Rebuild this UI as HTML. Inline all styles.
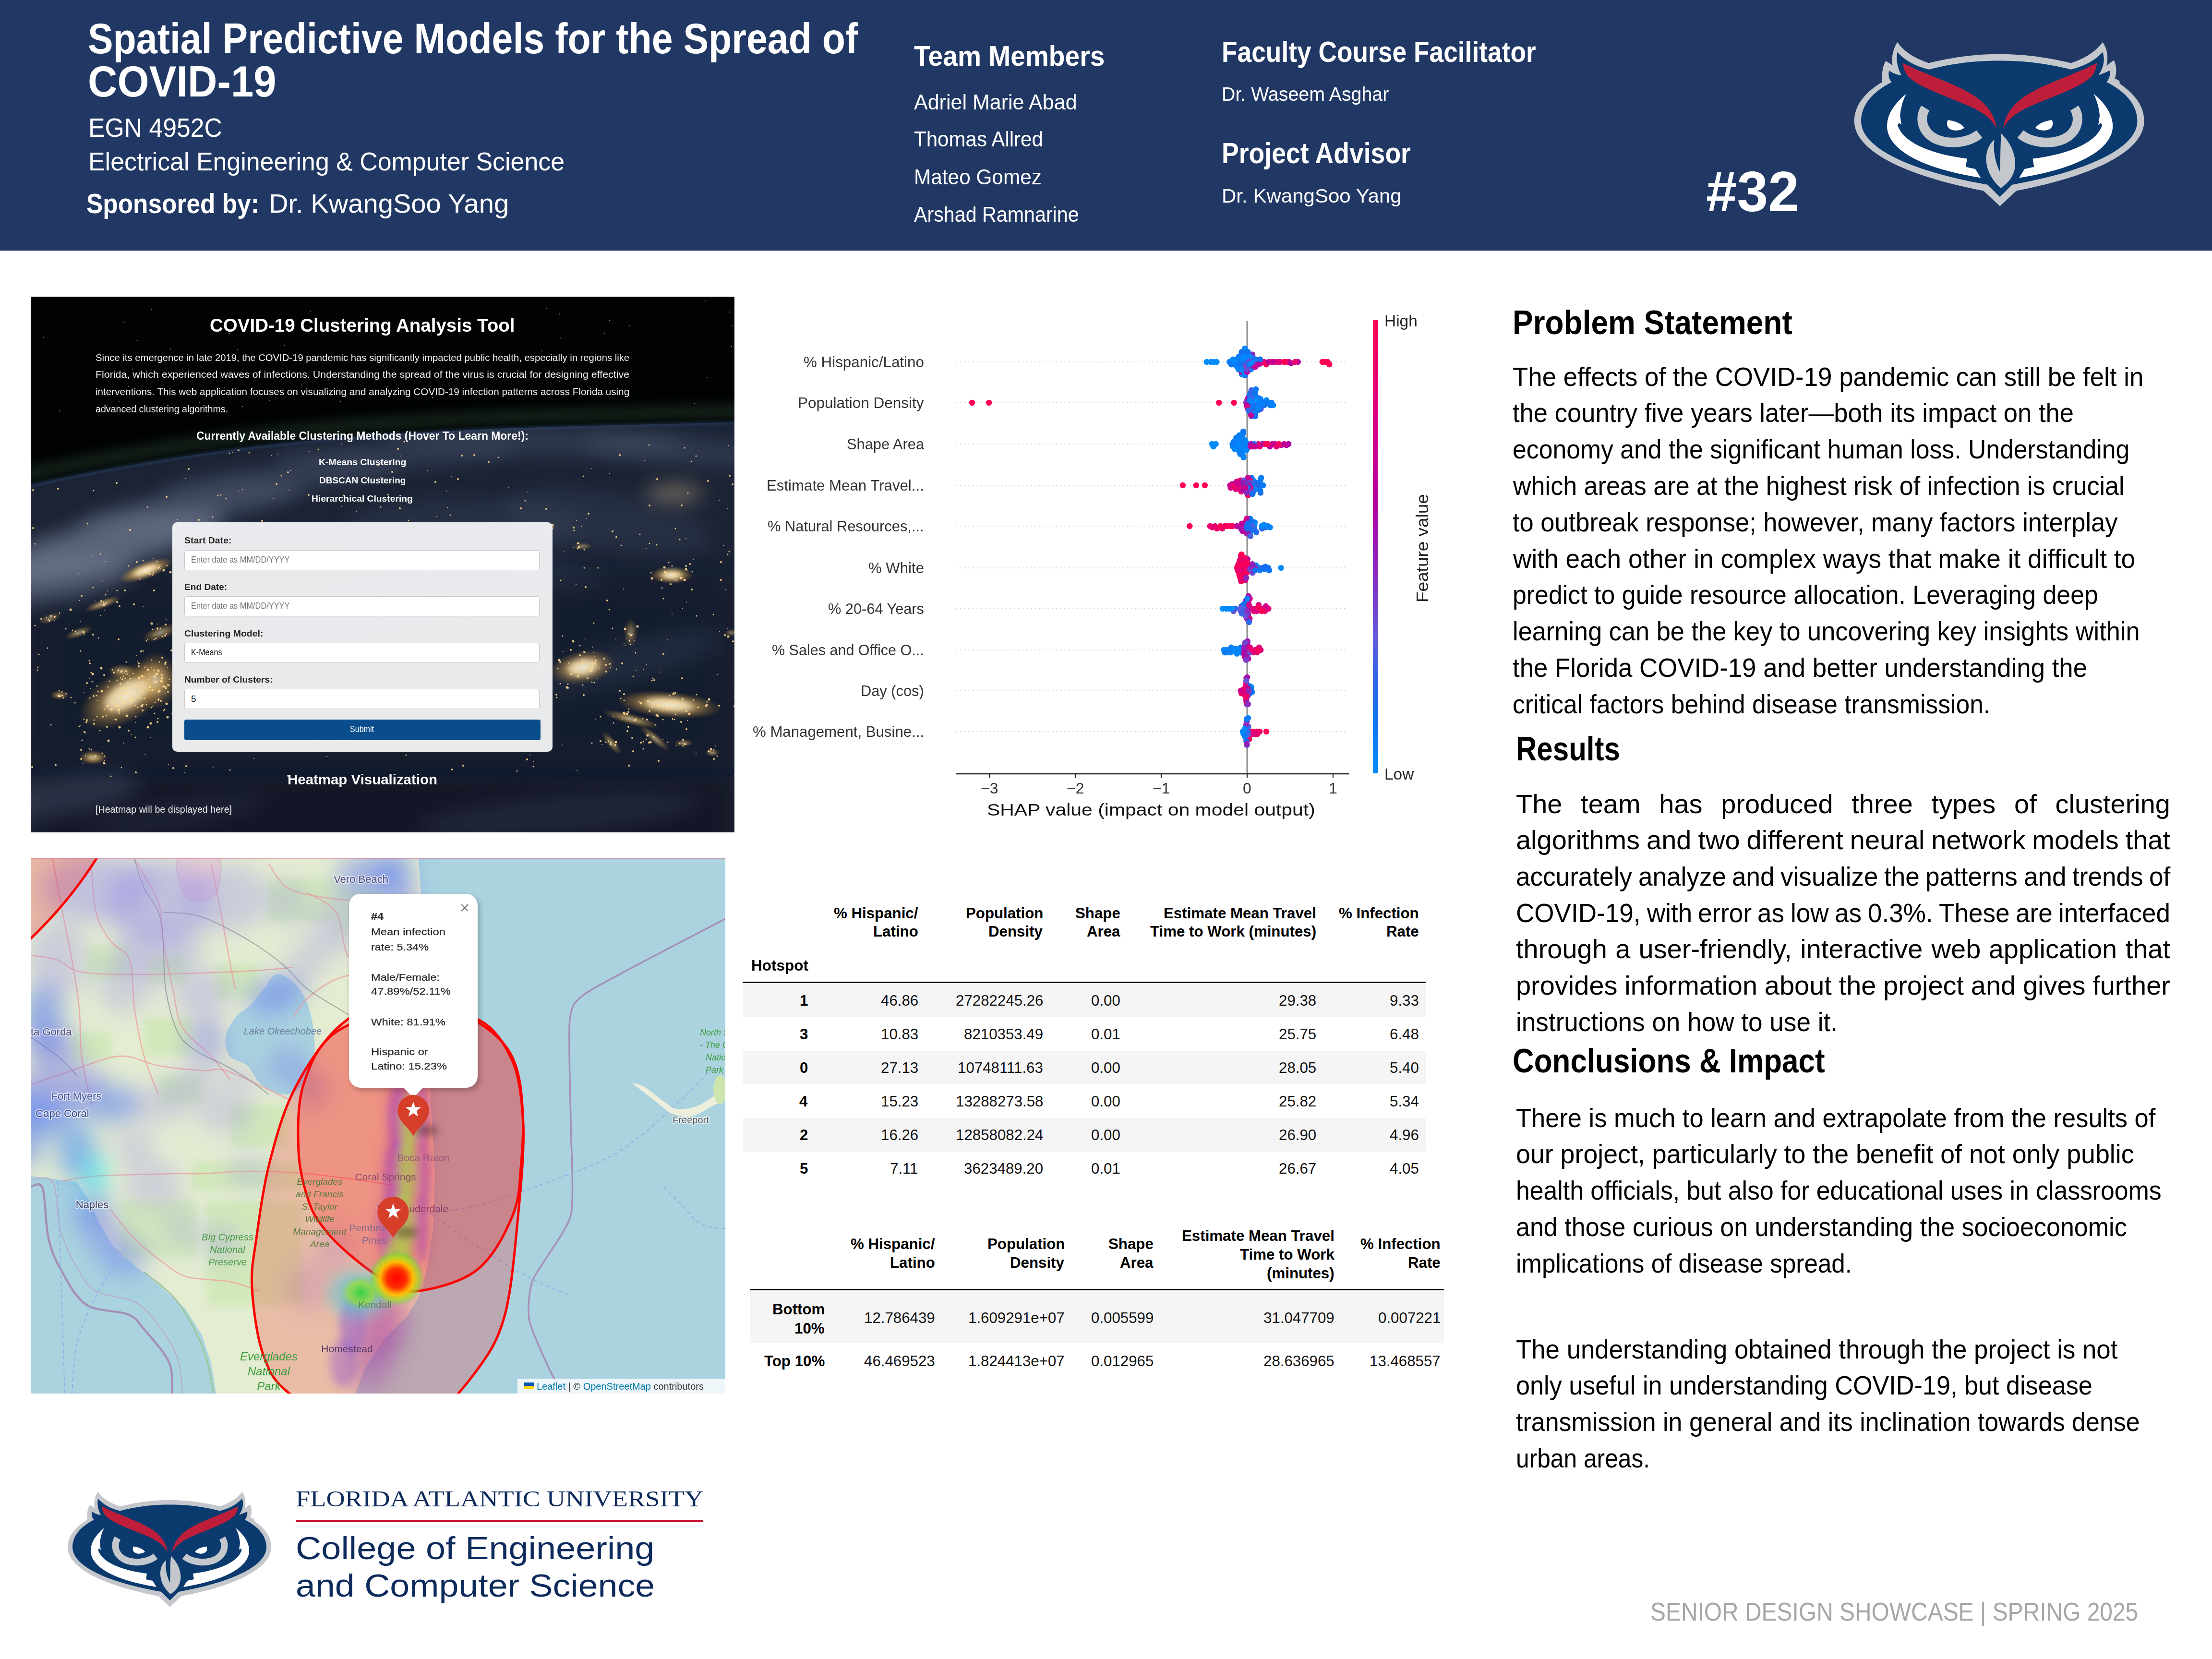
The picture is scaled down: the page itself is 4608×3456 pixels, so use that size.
<!DOCTYPE html>
<html><head><meta charset="utf-8"><title>Spatial Predictive Models for the Spread of COVID-19</title>
<style>
html,body{margin:0;padding:0;background:#fff;}
body{width:4608px;height:3456px;position:relative;overflow:hidden;font-family:"Liberation Sans",sans-serif;color:#000;}
.t{position:absolute;white-space:nowrap;line-height:1;transform-origin:0 0;}
</style></head><body>
<div style="position:absolute;left:0;top:0;width:4608px;height:522px;background:#213864"></div>
<div class="t" style="left:183.0px;top:36.9px;font-size:88.66px;font-weight:bold;color:#fff;transform:scaleX(0.8897);">Spatial Predictive Models for the Spread of</div>
<div class="t" style="left:183.0px;top:124.7px;font-size:90.12px;font-weight:bold;color:#fff;transform:scaleX(0.9447);">COVID-19</div>
<div class="t" style="left:184.0px;top:239.2px;font-size:55.23px;color:#fff;transform:scaleX(0.9362);">EGN 4952C</div>
<div class="t" style="left:184.0px;top:309.5px;font-size:53.78px;color:#fff;transform:scaleX(0.9650);">Electrical Engineering &amp; Computer Science</div>
<div class="t" style="left:180.0px;top:394.8px;font-size:58.14px;font-weight:bold;color:#fff;transform:scaleX(0.8845);">Sponsored by:</div>
<div class="t" style="left:560.0px;top:397.2px;font-size:55.23px;color:#fff;transform:scaleX(1.0163);">Dr. KwangSoo Yang</div>
<div class="t" style="left:1904.0px;top:86.6px;font-size:59.59px;font-weight:bold;color:#fff;transform:scaleX(0.9254);">Team Members</div>
<div class="t" style="left:1904.0px;top:189.9px;font-size:45.06px;color:#fff;transform:scaleX(0.9551);">Adriel Marie Abad</div>
<div class="t" style="left:1904.0px;top:266.9px;font-size:45.06px;color:#fff;transform:scaleX(0.9340);">Thomas Allred</div>
<div class="t" style="left:1904.0px;top:345.9px;font-size:45.06px;color:#fff;transform:scaleX(0.9399);">Mateo Gomez</div>
<div class="t" style="left:1904.0px;top:423.9px;font-size:45.06px;color:#fff;transform:scaleX(0.9149);">Arshad Ramnarine</div>
<div class="t" style="left:2545.0px;top:78.3px;font-size:61.05px;font-weight:bold;color:#fff;transform:scaleX(0.8733);">Faculty Course Facilitator</div>
<div class="t" style="left:2545.0px;top:175.5px;font-size:40.70px;color:#fff;transform:scaleX(0.9667);">Dr. Waseem Asghar</div>
<div class="t" style="left:2545.0px;top:289.3px;font-size:61.05px;font-weight:bold;color:#fff;transform:scaleX(0.8775);">Project Advisor</div>
<div class="t" style="left:2545.0px;top:387.5px;font-size:40.70px;color:#fff;transform:scaleX(1.0331);">Dr. KwangSoo Yang</div>
<div class="t" style="left:3554.0px;top:339.1px;font-size:119.19px;font-weight:bold;color:#fff;transform:scaleX(0.9749);">#32</div>
<svg style="position:absolute;left:3850.0px;top:70.0px" width="630.0" height="370.0" viewBox="0 0 2212 1299">
<path fill="#c4c7cc" d="M360 62 C400 120 470 175 590 215 C800 165 950 150 1105 150 C1260 150 1420 165 1630 215
 C1750 175 1820 120 1862 62 C1895 110 1905 170 1890 235 C1915 215 1935 200 1945 195 C1965 240 1965 290 1950 330
 C1985 340 1990 350 1985 365 C2110 450 2165 540 2165 640 C2165 860 1800 1040 1230 1150
 L1110 1262 L990 1150 C420 1040 45 860 45 640 C45 530 120 430 250 355 C245 300 250 240 275 200
 C300 215 315 225 325 232 C315 170 330 110 360 62 Z"/>
<path fill="#0a3a6e" d="M360 135 C410 190 480 235 590 262 C800 210 950 198 1105 198 C1260 198 1420 210 1630 262
 C1740 235 1810 190 1862 135 C1880 190 1870 250 1830 305 C1870 290 1900 275 1915 270 C1920 300 1910 330 1890 355
 C2040 430 2115 530 2115 640 C2115 830 1780 1000 1200 1105 L1110 1195 L1020 1105 C430 1000 95 830 95 640
 C95 530 170 430 320 355 C300 340 290 300 300 270 C320 285 350 300 390 305 C360 250 350 190 360 135 Z"/>
<path fill="#bf1e3a" d="M400 215 C560 300 780 360 930 460 C1030 530 1075 610 1085 690 C1040 610 960 560 860 520
 C700 450 480 380 425 295 C412 270 404 245 400 215 Z"/>
<path fill="#bf1e3a" d="M1820 215 C1660 300 1440 360 1290 460 C1190 530 1145 610 1135 690 C1180 610 1260 560 1360 520
 C1520 450 1740 380 1795 295 C1808 270 1816 245 1820 215 Z"/>
<circle cx="1950" cy="368" r="13" fill="none" stroke="#c4c7cc" stroke-width="4"/>
<path fill="#fff" d="M425 440 C330 520 280 600 285 690 C300 860 560 990 970 1055 L930 990 L860 975 L870 915
 C600 880 420 800 370 690 C360 670 360 660 375 655 L390 668 L380 600 C385 540 400 490 425 440 Z"/>
<path fill="#fff" d="M1795 440 C1890 520 1940 600 1935 690 C1920 860 1660 990 1250 1055 L1290 990 L1360 975 L1350 915
 C1620 880 1800 800 1850 690 C1860 670 1860 660 1845 655 L1830 668 L1840 600 C1835 540 1820 490 1795 440 Z"/>
<path fill="none" stroke="#c4c7cc" stroke-width="70" d="M565 545 C520 620 540 720 640 770 C740 815 880 800 960 735"/>
<path fill="none" stroke="#c4c7cc" stroke-width="70" d="M1655 545 C1700 620 1680 720 1580 770 C1480 815 1340 800 1260 735"/>
<path fill="#fff" d="M730 632 C790 640 830 660 850 688 C820 715 760 715 735 690 C720 672 720 650 730 632 Z"/>
<path fill="#fff" d="M1490 632 C1430 640 1390 660 1370 688 C1400 715 1460 715 1485 690 C1500 672 1500 650 1490 632 Z"/>
<path fill="#c4c7cc" d="M1120 730 C1180 790 1225 870 1222 960 C1218 1040 1170 1095 1115 1130 C1040 1060 1005 980 1010 900
 C1015 840 1040 800 1070 775 C1060 840 1070 930 1110 1010 C1115 920 1112 820 1120 730 Z"/>
</svg>
<svg style="position:absolute;left:64px;top:618px" width="1466" height="1116" viewBox="0 0 1466 1116"><defs>
<filter id="eb3" filterUnits="userSpaceOnUse" x="-3000" y="-3000" width="9000" height="9000"><feGaussianBlur stdDeviation="3"/></filter>
<filter id="eb6" filterUnits="userSpaceOnUse" x="-3000" y="-3000" width="9000" height="9000"><feGaussianBlur stdDeviation="6"/></filter>
<filter id="eb12" filterUnits="userSpaceOnUse" x="-3000" y="-3000" width="9000" height="9000"><feGaussianBlur stdDeviation="12"/></filter>
<filter id="eb20" filterUnits="userSpaceOnUse" x="-3000" y="-3000" width="9000" height="9000"><feGaussianBlur stdDeviation="20"/></filter>
<filter id="eb30" filterUnits="userSpaceOnUse" x="-3000" y="-3000" width="9000" height="9000"><feGaussianBlur stdDeviation="30"/></filter>
<radialGradient id="cl"><stop offset="0" stop-color="#fff6dc"/><stop offset="0.3" stop-color="#ffd27a" stop-opacity="0.9"/><stop offset="1" stop-color="#d08a30" stop-opacity="0"/></radialGradient>
<clipPath id="earthclip"><path d="M-30 402 Q0 390 150.0 362.0 Q300 334 450.0 315.0 Q600 296 750.0 286.5 Q900 277 1050.0 272.5 Q1200 268 1333.0 265.0 Q1466 262 1483.0 261.5 L1500 261 L1496 1146 L-30 1146 Z"/></clipPath>
</defs><rect width="1466" height="1116" fill="#010203"/><path d="M-30 378 Q0 366 150.0 338.0 Q300 310 450.0 291.0 Q600 272 750.0 262.5 Q900 253 1050.0 248.5 Q1200 244 1333.0 241.0 Q1466 238 1483.0 237.5 L1500 237" fill="none" stroke="#2a4630" stroke-width="26" opacity="0.5" filter="url(#eb12)"/><path d="M-30 402 Q0 390 150.0 362.0 Q300 334 450.0 315.0 Q600 296 750.0 286.5 Q900 277 1050.0 272.5 Q1200 268 1333.0 265.0 Q1466 262 1483.0 261.5 L1500 261 L1496 1146 L-30 1146 Z" fill="#1b2334"/><g clip-path="url(#earthclip)"><rect x="0" y="1000" width="1466" height="200" fill="#0c111c" opacity="0.6" filter="url(#eb30)"/><rect x="0" y="580" width="1466" height="400" fill="#111827" opacity="0.45" filter="url(#eb30)"/><ellipse cx="150" cy="520" rx="260" ry="50" transform="rotate(-14 150 520)" fill="#8d97ae" opacity="0.55" filter="url(#eb20)"/><ellipse cx="60" cy="590" rx="160" ry="45" transform="rotate(-10 60 590)" fill="#7f8aa2" opacity="0.45" filter="url(#eb20)"/><ellipse cx="330" cy="440" rx="240" ry="35" transform="rotate(-10 330 440)" fill="#6f7a93" opacity="0.4" filter="url(#eb20)"/><ellipse cx="520" cy="380" rx="260" ry="30" transform="rotate(-6 520 380)" fill="#5d6883" opacity="0.35" filter="url(#eb20)"/><ellipse cx="760" cy="330" rx="260" ry="28" transform="rotate(-3 760 330)" fill="#56627e" opacity="0.35" filter="url(#eb20)"/><ellipse cx="1050" cy="300" rx="320" ry="30" transform="rotate(2 1050 300)" fill="#55617d" opacity="0.35" filter="url(#eb20)"/><ellipse cx="1350" cy="320" rx="200" ry="30" transform="rotate(5 1350 320)" fill="#56627e" opacity="0.35" filter="url(#eb20)"/><ellipse cx="1340" cy="410" rx="60" ry="20" transform="rotate(0 1340 410)" fill="#c0a888" opacity="0.5" filter="url(#eb20)"/><ellipse cx="1200" cy="470" rx="220" ry="60" transform="rotate(10 1200 470)" fill="#4a5570" opacity="0.25" filter="url(#eb20)"/><ellipse cx="900" cy="480" rx="250" ry="60" transform="rotate(0 900 480)" fill="#4a5570" opacity="0.25" filter="url(#eb20)"/><ellipse cx="80" cy="1040" rx="150" ry="40" transform="rotate(-10 80 1040)" fill="#56627c" opacity="0.35" filter="url(#eb20)"/><ellipse cx="300" cy="1080" rx="200" ry="30" transform="rotate(-10 300 1080)" fill="#4a5570" opacity="0.2" filter="url(#eb20)"/><ellipse cx="1100" cy="1080" rx="300" ry="40" transform="rotate(-5 1100 1080)" fill="#4a5570" opacity="0.25" filter="url(#eb20)"/><ellipse cx="1250" cy="760" rx="200" ry="40" transform="rotate(-15 1250 760)" fill="#4a5570" opacity="0.25" filter="url(#eb20)"/><ellipse cx="700" cy="650" rx="250" ry="60" transform="rotate(-10 700 650)" fill="#4a5570" opacity="0.15" filter="url(#eb20)"/><ellipse cx="1000" cy="560" rx="200" ry="40" transform="rotate(10 1000 560)" fill="#3a4560" opacity="0.25" filter="url(#eb20)"/><ellipse cx="200" cy="830" rx="110" ry="55" transform="rotate(-30 200 830)" fill="url(#cl)" opacity="0.85"/><ellipse cx="260" cy="800" rx="50" ry="60" transform="rotate(0 260 800)" fill="url(#cl)" opacity="0.6"/><ellipse cx="240" cy="570" rx="60" ry="18" transform="rotate(-20 240 570)" fill="url(#cl)" opacity="0.9"/><ellipse cx="150" cy="640" rx="40" ry="10" transform="rotate(-20 150 640)" fill="url(#cl)" opacity="0.6"/><ellipse cx="100" cy="700" rx="30" ry="10" transform="rotate(-20 100 700)" fill="url(#cl)" opacity="0.5"/><ellipse cx="40" cy="670" rx="25" ry="10" transform="rotate(-20 40 670)" fill="url(#cl)" opacity="0.4"/><ellipse cx="130" cy="960" rx="30" ry="15" transform="rotate(0 130 960)" fill="url(#cl)" opacity="0.7"/><ellipse cx="60" cy="830" rx="20" ry="10" transform="rotate(0 60 830)" fill="url(#cl)" opacity="0.5"/><ellipse cx="190" cy="780" rx="30" ry="15" transform="rotate(0 190 780)" fill="url(#cl)" opacity="0.5"/><ellipse cx="270" cy="700" rx="40" ry="15" transform="rotate(-20 270 700)" fill="url(#cl)" opacity="0.5"/><ellipse cx="1335" cy="580" rx="45" ry="18" transform="rotate(0 1335 580)" fill="url(#cl)" opacity="0.85"/><ellipse cx="1150" cy="772" rx="70" ry="35" transform="rotate(-10 1150 772)" fill="url(#cl)" opacity="0.8"/><ellipse cx="1330" cy="850" rx="110" ry="28" transform="rotate(5 1330 850)" fill="url(#cl)" opacity="0.85"/><ellipse cx="1250" cy="880" rx="60" ry="12" transform="rotate(15 1250 880)" fill="url(#cl)" opacity="0.6"/><ellipse cx="1300" cy="920" rx="40" ry="10" transform="rotate(40 1300 920)" fill="url(#cl)" opacity="0.5"/><ellipse cx="1210" cy="930" rx="30" ry="10" transform="rotate(50 1210 930)" fill="url(#cl)" opacity="0.5"/><ellipse cx="1060" cy="770" rx="30" ry="10" transform="rotate(0 1060 770)" fill="url(#cl)" opacity="0.4"/><ellipse cx="1250" cy="700" rx="15" ry="30" transform="rotate(0 1250 700)" fill="url(#cl)" opacity="0.4"/><ellipse cx="1150" cy="520" rx="20" ry="8" transform="rotate(0 1150 520)" fill="url(#cl)" opacity="0.4"/><ellipse cx="1020" cy="560" rx="20" ry="8" transform="rotate(0 1020 560)" fill="url(#cl)" opacity="0.3"/><ellipse cx="1360" cy="930" rx="20" ry="8" transform="rotate(0 1360 930)" fill="url(#cl)" opacity="0.5"/><ellipse cx="1420" cy="950" rx="15" ry="8" transform="rotate(0 1420 950)" fill="url(#cl)" opacity="0.5"/><ellipse cx="1080" cy="480" rx="15" ry="6" transform="rotate(0 1080 480)" fill="url(#cl)" opacity="0.4"/><ellipse cx="1460" cy="700" rx="15" ry="8" transform="rotate(0 1460 700)" fill="url(#cl)" opacity="0.4"/><ellipse cx="200" cy="830" rx="50" ry="25" transform="rotate(-30 200 830)" fill="#fff4d8" opacity="0.55" filter="url(#eb6)"/><ellipse cx="240" cy="570" rx="27" ry="8" transform="rotate(-20 240 570)" fill="#fff4d8" opacity="0.55" filter="url(#eb6)"/><ellipse cx="1335" cy="580" rx="20" ry="8" transform="rotate(0 1335 580)" fill="#fff4d8" opacity="0.55" filter="url(#eb6)"/><ellipse cx="1150" cy="772" rx="32" ry="16" transform="rotate(-10 1150 772)" fill="#fff4d8" opacity="0.55" filter="url(#eb6)"/><ellipse cx="1330" cy="850" rx="50" ry="13" transform="rotate(5 1330 850)" fill="#fff4d8" opacity="0.55" filter="url(#eb6)"/><g fill="#ffd890" opacity="0.9"><circle cx="129" cy="786" r="2.5"/><circle cx="267" cy="838" r="1.5"/><circle cx="123" cy="763" r="1"/><circle cx="116" cy="886" r="2"/><circle cx="124" cy="816" r="1"/><circle cx="193" cy="791" r="1.5"/><circle cx="289" cy="797" r="1.5"/><circle cx="202" cy="815" r="2.5"/><circle cx="177" cy="817" r="1"/><circle cx="206" cy="829" r="1.5"/><circle cx="235" cy="824" r="1.5"/><circle cx="162" cy="925" r="2.5"/><circle cx="260" cy="792" r="1.5"/><circle cx="286" cy="809" r="2"/><circle cx="183" cy="865" r="1.5"/><circle cx="244" cy="818" r="1.5"/><circle cx="174" cy="880" r="1"/><circle cx="122" cy="796" r="1"/><circle cx="159" cy="896" r="2"/><circle cx="187" cy="807" r="2"/><circle cx="194" cy="817" r="1"/><circle cx="254" cy="819" r="2"/><circle cx="306" cy="838" r="1.5"/><circle cx="117" cy="882" r="2"/><circle cx="237" cy="837" r="1.5"/><circle cx="233" cy="850" r="2"/><circle cx="168" cy="860" r="2.5"/><circle cx="200" cy="873" r="2.5"/><circle cx="199" cy="761" r="1.5"/><circle cx="342" cy="851" r="1"/><circle cx="219" cy="875" r="1.5"/><circle cx="248" cy="813" r="2.5"/><circle cx="277" cy="862" r="1.5"/><circle cx="211" cy="844" r="1.5"/><circle cx="191" cy="797" r="2"/><circle cx="210" cy="840" r="2.5"/><circle cx="140" cy="822" r="1.5"/><circle cx="197" cy="795" r="1.5"/><circle cx="139" cy="841" r="1"/><circle cx="286" cy="823" r="2"/><circle cx="179" cy="853" r="2.5"/><circle cx="281" cy="813" r="2"/><circle cx="251" cy="856" r="1.5"/><circle cx="259" cy="845" r="1.5"/><circle cx="-21" cy="873" r="1.5"/><circle cx="266" cy="824" r="2"/><circle cx="180" cy="799" r="1.5"/><circle cx="184" cy="868" r="1.5"/><circle cx="285" cy="876" r="2.5"/><circle cx="282" cy="816" r="2"/><circle cx="226" cy="812" r="2"/><circle cx="185" cy="897" r="2.5"/><circle cx="132" cy="882" r="1.5"/><circle cx="170" cy="777" r="1.5"/><circle cx="138" cy="875" r="1.5"/><circle cx="224" cy="804" r="1.5"/><circle cx="253" cy="821" r="1.5"/><circle cx="192" cy="827" r="2.5"/><circle cx="208" cy="796" r="1.5"/><circle cx="92" cy="846" r="1.5"/><circle cx="150" cy="875" r="2"/><circle cx="132" cy="890" r="2"/><circle cx="350" cy="816" r="2.5"/><circle cx="306" cy="914" r="1.5"/><circle cx="274" cy="752" r="2"/><circle cx="195" cy="845" r="2"/><circle cx="250" cy="889" r="2.5"/><circle cx="59" cy="821" r="1.5"/><circle cx="126" cy="783" r="1.5"/><circle cx="197" cy="821" r="1.5"/><circle cx="128" cy="802" r="1.5"/><circle cx="218" cy="887" r="1"/><circle cx="368" cy="821" r="1.5"/><circle cx="231" cy="837" r="1.5"/><circle cx="268" cy="821" r="2.5"/><circle cx="266" cy="840" r="2"/><circle cx="188" cy="817" r="1.5"/><circle cx="210" cy="913" r="1"/><circle cx="112" cy="907" r="2"/><circle cx="262" cy="786" r="2.5"/><circle cx="188" cy="837" r="2.5"/><circle cx="184" cy="861" r="2.5"/><circle cx="158" cy="873" r="1.5"/><circle cx="226" cy="794" r="2.5"/><circle cx="164" cy="801" r="1.5"/><circle cx="233" cy="862" r="2"/><circle cx="353" cy="803" r="2.5"/><circle cx="294" cy="869" r="1"/><circle cx="160" cy="853" r="2.5"/><circle cx="148" cy="822" r="2.5"/><circle cx="154" cy="859" r="1.5"/><circle cx="131" cy="832" r="2"/><circle cx="111" cy="880" r="1.5"/><circle cx="161" cy="813" r="1.5"/><circle cx="137" cy="831" r="1.5"/><circle cx="249" cy="819" r="1.5"/><circle cx="208" cy="837" r="2.5"/><circle cx="244" cy="823" r="1"/><circle cx="222" cy="759" r="1"/><circle cx="123" cy="836" r="1.5"/><circle cx="297" cy="803" r="1.5"/><circle cx="84" cy="835" r="1.5"/><circle cx="178" cy="881" r="2"/><circle cx="205" cy="790" r="1"/><circle cx="274" cy="802" r="1.5"/><circle cx="236" cy="792" r="1.5"/><circle cx="259" cy="790" r="1.5"/><circle cx="231" cy="853" r="2.5"/><circle cx="261" cy="802" r="2.5"/><circle cx="201" cy="826" r="2.5"/><circle cx="271" cy="842" r="2"/><circle cx="225" cy="764" r="2"/><circle cx="293" cy="737" r="2"/><circle cx="218" cy="852" r="1.5"/><circle cx="285" cy="772" r="1"/><circle cx="259" cy="803" r="2"/><circle cx="225" cy="770" r="2"/><circle cx="273" cy="788" r="2"/><circle cx="241" cy="717" r="1.5"/><circle cx="232" cy="790" r="2.5"/><circle cx="264" cy="785" r="1.5"/><circle cx="259" cy="818" r="1"/><circle cx="257" cy="792" r="2"/><circle cx="357" cy="780" r="2"/><circle cx="310" cy="824" r="1.5"/><circle cx="221" cy="748" r="1"/><circle cx="257" cy="778" r="1.5"/><circle cx="252" cy="757" r="1.5"/><circle cx="238" cy="772" r="1.5"/><circle cx="277" cy="812" r="2.5"/><circle cx="281" cy="826" r="1"/><circle cx="253" cy="854" r="1"/><circle cx="257" cy="714" r="1.5"/><circle cx="272" cy="801" r="2.5"/><circle cx="234" cy="803" r="1.5"/><circle cx="273" cy="788" r="1.5"/><circle cx="283" cy="848" r="2.5"/><circle cx="244" cy="897" r="2.5"/><circle cx="244" cy="777" r="2.5"/><circle cx="265" cy="879" r="1.5"/><circle cx="245" cy="798" r="1.5"/><circle cx="280" cy="765" r="2"/><circle cx="279" cy="860" r="1.5"/><circle cx="295" cy="832" r="1"/><circle cx="281" cy="762" r="2"/><circle cx="264" cy="886" r="2"/><circle cx="273" cy="795" r="2.5"/><circle cx="303" cy="812" r="1"/><circle cx="298" cy="718" r="2"/><circle cx="252" cy="773" r="1"/><circle cx="312" cy="846" r="2"/><circle cx="266" cy="779" r="2.5"/><circle cx="223" cy="856" r="1.5"/><circle cx="241" cy="850" r="1.5"/><circle cx="268" cy="761" r="1.5"/><circle cx="230" cy="739" r="2"/><circle cx="270" cy="567" r="1"/><circle cx="204" cy="561" r="1.5"/><circle cx="228" cy="573" r="1"/><circle cx="248" cy="578" r="2"/><circle cx="269" cy="561" r="1.5"/><circle cx="277" cy="570" r="2.5"/><circle cx="266" cy="565" r="2"/><circle cx="255" cy="574" r="1.5"/><circle cx="300" cy="581" r="2"/><circle cx="255" cy="578" r="1.5"/><circle cx="263" cy="551" r="1.5"/><circle cx="309" cy="576" r="1.5"/><circle cx="268" cy="564" r="1"/><circle cx="221" cy="553" r="2"/><circle cx="251" cy="564" r="1.5"/><circle cx="227" cy="588" r="1.5"/><circle cx="291" cy="574" r="2.5"/><circle cx="242" cy="575" r="2"/><circle cx="284" cy="560" r="1.5"/><circle cx="253" cy="581" r="1"/><circle cx="234" cy="550" r="1.5"/><circle cx="152" cy="636" r="1.5"/><circle cx="180" cy="636" r="2"/><circle cx="147" cy="634" r="2"/><circle cx="185" cy="645" r="2"/><circle cx="153" cy="642" r="2.5"/><circle cx="102" cy="633" r="1"/><circle cx="153" cy="653" r="1"/><circle cx="157" cy="639" r="1.5"/><circle cx="134" cy="634" r="1"/><circle cx="130" cy="704" r="2"/><circle cx="98" cy="702" r="1"/><circle cx="110" cy="699" r="2.5"/><circle cx="93" cy="697" r="1.5"/><circle cx="112" cy="703" r="1"/><circle cx="141" cy="711" r="1.5"/><circle cx="73" cy="692" r="1.5"/><circle cx="87" cy="695" r="1.5"/><circle cx="22" cy="671" r="2"/><circle cx="33" cy="669" r="1"/><circle cx="50" cy="667" r="2"/><circle cx="83" cy="652" r="2.5"/><circle cx="49" cy="674" r="1"/><circle cx="42" cy="665" r="2"/><circle cx="37" cy="673" r="1"/><circle cx="105" cy="963" r="2"/><circle cx="154" cy="957" r="1.5"/><circle cx="154" cy="966" r="1"/><circle cx="122" cy="942" r="1.5"/><circle cx="135" cy="957" r="1.5"/><circle cx="109" cy="972" r="1"/><circle cx="149" cy="951" r="1.5"/><circle cx="114" cy="955" r="1"/><circle cx="126" cy="944" r="1.5"/><circle cx="153" cy="972" r="2.5"/><circle cx="63" cy="832" r="1.5"/><circle cx="68" cy="836" r="1.5"/><circle cx="59" cy="832" r="2.5"/><circle cx="66" cy="831" r="1.5"/><circle cx="65" cy="823" r="1.5"/><circle cx="74" cy="827" r="1.5"/><circle cx="182" cy="779" r="1.5"/><circle cx="189" cy="781" r="2.5"/><circle cx="183" cy="776" r="1"/><circle cx="187" cy="794" r="1.5"/><circle cx="153" cy="788" r="2"/><circle cx="201" cy="786" r="1.5"/><circle cx="173" cy="783" r="2"/><circle cx="213" cy="785" r="1.5"/><circle cx="147" cy="774" r="2.5"/><circle cx="199" cy="780" r="2"/><circle cx="264" cy="693" r="1"/><circle cx="298" cy="703" r="2"/><circle cx="264" cy="691" r="2"/><circle cx="274" cy="708" r="1.5"/><circle cx="261" cy="712" r="1.5"/><circle cx="243" cy="714" r="1"/><circle cx="254" cy="693" r="1.5"/><circle cx="280" cy="706" r="2"/><circle cx="283" cy="702" r="1"/><circle cx="270" cy="691" r="1.5"/><circle cx="281" cy="683" r="2"/><circle cx="252" cy="681" r="2.5"/><circle cx="282" cy="704" r="1"/><circle cx="1362" cy="590" r="2.5"/><circle cx="1345" cy="591" r="1.5"/><circle cx="1320" cy="564" r="2.5"/><circle cx="1314" cy="590" r="2"/><circle cx="1294" cy="587" r="2.5"/><circle cx="1369" cy="571" r="1"/><circle cx="1292" cy="575" r="1.5"/><circle cx="1340" cy="579" r="2.5"/><circle cx="1340" cy="590" r="1"/><circle cx="1355" cy="586" r="2.5"/><circle cx="1373" cy="557" r="2"/><circle cx="1315" cy="607" r="1.5"/><circle cx="1351" cy="576" r="1"/><circle cx="1336" cy="561" r="1.5"/><circle cx="1365" cy="568" r="2.5"/><circle cx="1322" cy="574" r="2.5"/><circle cx="1166" cy="779" r="1.5"/><circle cx="1198" cy="767" r="2"/><circle cx="1206" cy="765" r="2"/><circle cx="1174" cy="804" r="1.5"/><circle cx="1195" cy="754" r="2"/><circle cx="1117" cy="814" r="2.5"/><circle cx="1108" cy="707" r="1.5"/><circle cx="1170" cy="761" r="1.5"/><circle cx="1170" cy="730" r="1"/><circle cx="1169" cy="763" r="2"/><circle cx="1153" cy="755" r="1"/><circle cx="1101" cy="757" r="2.5"/><circle cx="1144" cy="747" r="2"/><circle cx="1098" cy="775" r="1.5"/><circle cx="1140" cy="791" r="2.5"/><circle cx="1177" cy="758" r="2"/><circle cx="1169" cy="774" r="2.5"/><circle cx="1103" cy="761" r="2"/><circle cx="1169" cy="803" r="1.5"/><circle cx="1148" cy="763" r="2"/><circle cx="1180" cy="795" r="1"/><circle cx="1119" cy="815" r="2"/><circle cx="1175" cy="764" r="2.5"/><circle cx="1174" cy="749" r="1"/><circle cx="1208" cy="772" r="1"/><circle cx="1168" cy="780" r="2.5"/><circle cx="1153" cy="740" r="2"/><circle cx="1144" cy="727" r="1.5"/><circle cx="1130" cy="718" r="2.5"/><circle cx="1080" cy="727" r="1"/><circle cx="1103" cy="806" r="1.5"/><circle cx="1160" cy="795" r="2"/><circle cx="1239" cy="726" r="1"/><circle cx="1152" cy="830" r="2"/><circle cx="1136" cy="781" r="2.5"/><circle cx="1170" cy="769" r="1"/><circle cx="1051" cy="774" r="1"/><circle cx="1059" cy="775" r="1.5"/><circle cx="1220" cy="776" r="1.5"/><circle cx="1150" cy="756" r="1.5"/><circle cx="1126" cy="786" r="2"/><circle cx="1109" cy="739" r="1"/><circle cx="1121" cy="763" r="1.5"/><circle cx="1350" cy="848" r="2"/><circle cx="1390" cy="856" r="1.5"/><circle cx="1317" cy="881" r="1.5"/><circle cx="1326" cy="859" r="2"/><circle cx="1295" cy="855" r="2"/><circle cx="1358" cy="838" r="2"/><circle cx="1262" cy="878" r="1"/><circle cx="1344" cy="840" r="1"/><circle cx="1407" cy="853" r="2"/><circle cx="1347" cy="844" r="1.5"/><circle cx="1368" cy="883" r="1"/><circle cx="1305" cy="851" r="1.5"/><circle cx="1236" cy="828" r="2"/><circle cx="1310" cy="850" r="2"/><circle cx="1339" cy="827" r="2.5"/><circle cx="1413" cy="839" r="2.5"/><circle cx="1319" cy="846" r="1"/><circle cx="1245" cy="865" r="2"/><circle cx="1381" cy="840" r="1.5"/><circle cx="1357" cy="843" r="1.5"/><circle cx="1187" cy="875" r="1.5"/><circle cx="1343" cy="870" r="1.5"/><circle cx="1367" cy="864" r="1"/><circle cx="1314" cy="841" r="1.5"/><circle cx="1331" cy="842" r="2"/><circle cx="1391" cy="855" r="1.5"/><circle cx="1334" cy="854" r="2"/><circle cx="1409" cy="844" r="1.5"/><circle cx="1306" cy="852" r="1.5"/><circle cx="1344" cy="848" r="1.5"/><circle cx="1340" cy="842" r="1.5"/><circle cx="1331" cy="831" r="1.5"/><circle cx="1372" cy="869" r="2.5"/><circle cx="1355" cy="855" r="2"/><circle cx="1289" cy="863" r="2"/><circle cx="1267" cy="844" r="1.5"/><circle cx="1362" cy="848" r="1"/><circle cx="1236" cy="841" r="1.5"/><circle cx="1337" cy="879" r="1"/><circle cx="1434" cy="852" r="2"/><circle cx="1341" cy="881" r="1.5"/><circle cx="1335" cy="844" r="2.5"/><circle cx="1337" cy="880" r="1.5"/><circle cx="1343" cy="825" r="2"/><circle cx="1246" cy="859" r="1.5"/><circle cx="1286" cy="843" r="2.5"/><circle cx="1467" cy="832" r="2"/><circle cx="1318" cy="861" r="1"/><circle cx="1317" cy="845" r="1.5"/><circle cx="1271" cy="847" r="2.5"/><circle cx="1307" cy="874" r="2"/><circle cx="1366" cy="864" r="2"/><circle cx="1408" cy="851" r="2.5"/><circle cx="1310" cy="852" r="1"/><circle cx="1301" cy="892" r="1.5"/><circle cx="1275" cy="879" r="1.5"/><circle cx="1232" cy="880" r="1"/><circle cx="1245" cy="896" r="1.5"/><circle cx="1214" cy="888" r="1.5"/><circle cx="1237" cy="869" r="2"/><circle cx="1304" cy="872" r="2.5"/><circle cx="1257" cy="882" r="1.5"/><circle cx="1246" cy="880" r="1"/><circle cx="1234" cy="869" r="1"/><circle cx="1284" cy="881" r="2"/><circle cx="1242" cy="869" r="2.5"/><circle cx="1214" cy="875" r="1"/><circle cx="1236" cy="867" r="2.5"/><circle cx="1260" cy="882" r="2"/><circle cx="1291" cy="928" r="2.5"/><circle cx="1298" cy="917" r="1.5"/><circle cx="1327" cy="928" r="1.5"/><circle cx="1282" cy="922" r="1.5"/><circle cx="1253" cy="919" r="2"/><circle cx="1276" cy="927" r="1.5"/><circle cx="1288" cy="929" r="2"/><circle cx="1317" cy="923" r="1"/><circle cx="1285" cy="914" r="2.5"/><circle cx="1204" cy="926" r="1.5"/><circle cx="1219" cy="928" r="2.5"/><circle cx="1190" cy="933" r="1"/><circle cx="1218" cy="934" r="2"/><circle cx="1169" cy="930" r="1.5"/><circle cx="1187" cy="926" r="2"/><circle cx="1198" cy="928" r="1.5"/><circle cx="1208" cy="933" r="1.5"/><circle cx="1032" cy="776" r="2.5"/><circle cx="1058" cy="780" r="1"/><circle cx="1068" cy="769" r="1"/><circle cx="1056" cy="773" r="1.5"/><circle cx="1072" cy="762" r="1"/><circle cx="1063" cy="761" r="1.5"/><circle cx="1043" cy="762" r="1.5"/><circle cx="1086" cy="778" r="1"/><circle cx="1247" cy="716" r="1.5"/><circle cx="1236" cy="723" r="1"/><circle cx="1253" cy="703" r="1"/><circle cx="1264" cy="687" r="2.5"/><circle cx="1242" cy="713" r="1"/><circle cx="1250" cy="705" r="2.5"/><circle cx="1238" cy="692" r="2.5"/><circle cx="1247" cy="718" r="1"/><circle cx="1246" cy="702" r="1.5"/><circle cx="1258" cy="717" r="1"/><circle cx="1141" cy="513" r="2"/><circle cx="1142" cy="522" r="2.5"/><circle cx="1130" cy="523" r="1"/><circle cx="1153" cy="527" r="1.5"/><circle cx="1139" cy="525" r="1.5"/><circle cx="1011" cy="569" r="2.5"/><circle cx="1028" cy="562" r="2"/><circle cx="1015" cy="567" r="2.5"/><circle cx="1014" cy="557" r="1.5"/><circle cx="1020" cy="556" r="2"/><circle cx="1346" cy="935" r="1"/><circle cx="1365" cy="933" r="1"/><circle cx="1352" cy="931" r="1.5"/><circle cx="1362" cy="932" r="2"/><circle cx="1359" cy="936" r="1.5"/><circle cx="1423" cy="944" r="1.5"/><circle cx="1414" cy="948" r="1.5"/><circle cx="1417" cy="943" r="2.5"/><circle cx="1430" cy="957" r="1.5"/><circle cx="1412" cy="947" r="2"/><circle cx="1087" cy="476" r="2.5"/><circle cx="1079" cy="484" r="1.5"/><circle cx="1086" cy="483" r="2"/><circle cx="1070" cy="485" r="1.5"/><circle cx="1452" cy="692" r="1"/><circle cx="1480" cy="700" r="1.5"/><circle cx="1468" cy="699" r="1.5"/><circle cx="1446" cy="705" r="2"/><circle cx="1453" cy="708" r="2.5"/><circle cx="481" cy="782" r="1"/><circle cx="234" cy="646" r="1"/><circle cx="790" cy="638" r="1.5"/><circle cx="1227" cy="330" r="2"/><circle cx="3" cy="980" r="2"/><circle cx="297" cy="982" r="2"/><circle cx="349" cy="880" r="2"/><circle cx="150" cy="592" r="1"/><circle cx="946" cy="944" r="1"/><circle cx="963" cy="707" r="2"/><circle cx="1365" cy="561" r="2"/><circle cx="449" cy="815" r="1.5"/><circle cx="817" cy="686" r="1.5"/><circle cx="1150" cy="809" r="1.5"/><circle cx="778" cy="302" r="1.5"/><circle cx="83" cy="310" r="1"/><circle cx="156" cy="621" r="1.5"/><circle cx="1318" cy="629" r="1.5"/><circle cx="765" cy="317" r="2"/><circle cx="1125" cy="736" r="2"/><circle cx="900" cy="801" r="2"/><circle cx="300" cy="756" r="1.5"/><circle cx="1451" cy="441" r="1"/><circle cx="1021" cy="441" r="2"/><circle cx="541" cy="362" r="1"/><circle cx="580" cy="323" r="1"/><circle cx="440" cy="810" r="1.5"/><circle cx="574" cy="840" r="1"/><circle cx="1311" cy="782" r="1"/><circle cx="193" cy="930" r="1"/><circle cx="599" cy="318" r="1.5"/><circle cx="769" cy="441" r="2"/><circle cx="1261" cy="778" r="1"/><circle cx="1276" cy="942" r="1.5"/><circle cx="1208" cy="930" r="2"/><circle cx="1294" cy="800" r="1.5"/><circle cx="1074" cy="442" r="2"/><circle cx="367" cy="777" r="1"/><circle cx="282" cy="673" r="1"/><circle cx="536" cy="366" r="2"/><circle cx="635" cy="871" r="2"/><circle cx="422" cy="305" r="1"/><circle cx="1034" cy="964" r="2"/><circle cx="9" cy="685" r="1.5"/><circle cx="1065" cy="920" r="1.5"/><circle cx="221" cy="305" r="1"/><circle cx="1060" cy="559" r="1.5"/><circle cx="388" cy="700" r="1.5"/><circle cx="891" cy="676" r="1"/><circle cx="576" cy="691" r="1"/><circle cx="337" cy="506" r="2"/><circle cx="104" cy="676" r="1"/><circle cx="122" cy="758" r="1.5"/><circle cx="138" cy="811" r="1.5"/><circle cx="255" cy="545" r="1"/><circle cx="454" cy="774" r="1"/><circle cx="1359" cy="923" r="2"/><circle cx="1277" cy="777" r="1"/><circle cx="60" cy="659" r="1.5"/><circle cx="317" cy="513" r="1.5"/><circle cx="408" cy="615" r="1"/><circle cx="1422" cy="662" r="1.5"/><circle cx="1219" cy="713" r="1"/><circle cx="1365" cy="504" r="1"/><circle cx="234" cy="738" r="1.5"/><circle cx="129" cy="540" r="1"/><circle cx="522" cy="373" r="1.5"/><circle cx="144" cy="904" r="1.5"/><circle cx="52" cy="976" r="2"/><circle cx="1278" cy="341" r="1"/><circle cx="1304" cy="517" r="1.5"/><circle cx="1205" cy="652" r="1.5"/><circle cx="753" cy="365" r="2"/><circle cx="835" cy="616" r="2"/><circle cx="288" cy="810" r="1.5"/><circle cx="182" cy="344" r="1.5"/><circle cx="1289" cy="514" r="1.5"/><circle cx="617" cy="958" r="1"/><circle cx="257" cy="612" r="2"/><circle cx="448" cy="697" r="2"/><circle cx="1107" cy="934" r="1"/><circle cx="1352" cy="506" r="1.5"/><circle cx="417" cy="760" r="1"/><circle cx="636" cy="508" r="2"/><circle cx="487" cy="785" r="2"/><circle cx="827" cy="577" r="1.5"/><circle cx="908" cy="893" r="1"/><circle cx="536" cy="998" r="2"/><circle cx="130" cy="606" r="1.5"/><circle cx="543" cy="849" r="2"/><circle cx="1378" cy="573" r="1.5"/><circle cx="1462" cy="391" r="2"/><circle cx="1173" cy="680" r="1.5"/><circle cx="407" cy="421" r="1.5"/><circle cx="14" cy="778" r="1.5"/><circle cx="374" cy="734" r="1.5"/><circle cx="1336" cy="661" r="1"/><circle cx="420" cy="325" r="1"/><circle cx="966" cy="471" r="1.5"/><circle cx="1283" cy="767" r="1"/><circle cx="1321" cy="845" r="1.5"/><circle cx="145" cy="536" r="1.5"/><circle cx="238" cy="954" r="1"/><circle cx="288" cy="323" r="1.5"/><circle cx="771" cy="332" r="1"/><circle cx="1455" cy="531" r="1.5"/><circle cx="324" cy="619" r="1"/><circle cx="1024" cy="831" r="1"/><circle cx="1443" cy="518" r="1"/><circle cx="1318" cy="744" r="2"/><circle cx="857" cy="945" r="1.5"/><circle cx="1147" cy="479" r="1"/><circle cx="1139" cy="514" r="1.5"/><circle cx="257" cy="804" r="1.5"/><circle cx="1229" cy="837" r="1.5"/><circle cx="1245" cy="896" r="2"/><circle cx="1095" cy="829" r="2"/><circle cx="320" cy="766" r="1"/><circle cx="414" cy="326" r="1.5"/><circle cx="5" cy="403" r="2"/><circle cx="118" cy="473" r="1.5"/><circle cx="354" cy="730" r="1"/><circle cx="1227" cy="821" r="2"/><circle cx="1387" cy="665" r="1.5"/><circle cx="465" cy="744" r="2"/><circle cx="433" cy="405" r="1"/><circle cx="868" cy="439" r="1"/><circle cx="827" cy="362" r="1"/><circle cx="301" cy="765" r="2"/><circle cx="319" cy="889" r="1"/><circle cx="303" cy="945" r="1"/><circle cx="888" cy="731" r="2"/><circle cx="874" cy="455" r="1.5"/><circle cx="922" cy="784" r="1"/><circle cx="875" cy="713" r="2"/><circle cx="953" cy="773" r="2"/><circle cx="508" cy="633" r="2"/><circle cx="1454" cy="310" r="1"/><circle cx="821" cy="724" r="2"/><circle cx="1153" cy="565" r="1.5"/><circle cx="1249" cy="724" r="1.5"/><circle cx="196" cy="612" r="2"/><circle cx="925" cy="819" r="2"/><circle cx="1362" cy="315" r="1.5"/><circle cx="265" cy="682" r="1"/><circle cx="396" cy="413" r="1.5"/><circle cx="1212" cy="489" r="2"/><circle cx="516" cy="786" r="2"/><circle cx="357" cy="723" r="1.5"/><circle cx="1182" cy="565" r="1.5"/><circle cx="99" cy="576" r="1"/><circle cx="595" cy="924" r="1.5"/><circle cx="1376" cy="343" r="1.5"/><circle cx="898" cy="331" r="2"/><circle cx="1131" cy="481" r="2"/><circle cx="1003" cy="557" r="2"/><circle cx="1185" cy="774" r="1"/><circle cx="1357" cy="795" r="2"/><circle cx="1255" cy="947" r="2"/><circle cx="900" cy="734" r="1"/><circle cx="415" cy="986" r="1.5"/><circle cx="721" cy="667" r="2"/><circle cx="258" cy="868" r="1.5"/><circle cx="1377" cy="610" r="2"/><circle cx="350" cy="465" r="2"/><circle cx="1047" cy="969" r="1"/><circle cx="180" cy="612" r="1.5"/><circle cx="791" cy="853" r="2"/><circle cx="215" cy="641" r="2"/><circle cx="996" cy="398" r="1"/><circle cx="1177" cy="880" r="1"/><circle cx="1235" cy="609" r="1"/><circle cx="1387" cy="829" r="1.5"/><circle cx="1156" cy="605" r="2"/><circle cx="762" cy="829" r="1.5"/><circle cx="1047" cy="979" r="1.5"/><circle cx="751" cy="893" r="2"/><circle cx="474" cy="839" r="2"/><circle cx="467" cy="650" r="1"/><circle cx="298" cy="684" r="1.5"/><circle cx="407" cy="509" r="2"/><circle cx="354" cy="767" r="2"/><circle cx="727" cy="944" r="1"/><circle cx="482" cy="481" r="1.5"/><circle cx="640" cy="520" r="1"/><circle cx="348" cy="501" r="1"/><circle cx="1381" cy="548" r="1"/><circle cx="1456" cy="373" r="2"/><circle cx="702" cy="382" r="2"/><circle cx="924" cy="330" r="2"/><circle cx="1151" cy="374" r="1.5"/><circle cx="441" cy="402" r="1"/><circle cx="465" cy="962" r="1"/><circle cx="632" cy="756" r="1.5"/><circle cx="5" cy="482" r="2"/><circle cx="1050" cy="816" r="1"/><circle cx="9" cy="515" r="1.5"/><circle cx="203" cy="804" r="2"/><circle cx="219" cy="991" r="2"/><circle cx="1269" cy="495" r="1.5"/><circle cx="626" cy="664" r="1.5"/><circle cx="704" cy="817" r="1.5"/><circle cx="145" cy="664" r="1"/><circle cx="358" cy="596" r="1"/><circle cx="855" cy="749" r="2"/><circle cx="911" cy="667" r="2"/><circle cx="986" cy="632" r="2"/><circle cx="538" cy="403" r="1"/><circle cx="35" cy="732" r="1.5"/><circle cx="15" cy="772" r="1.5"/><circle cx="822" cy="928" r="1.5"/><circle cx="379" cy="459" r="1.5"/><circle cx="708" cy="348" r="1"/><circle cx="901" cy="977" r="2"/><circle cx="427" cy="799" r="1"/><circle cx="985" cy="628" r="1"/><circle cx="974" cy="335" r="1.5"/><circle cx="759" cy="909" r="1"/><circle cx="306" cy="464" r="1"/><circle cx="1136" cy="600" r="1"/><circle cx="653" cy="927" r="2"/><circle cx="721" cy="849" r="1"/><circle cx="652" cy="414" r="1.5"/><circle cx="708" cy="920" r="1.5"/><circle cx="106" cy="623" r="2"/><circle cx="1355" cy="886" r="2"/><circle cx="358" cy="661" r="2"/><circle cx="961" cy="936" r="2"/><circle cx="761" cy="820" r="1.5"/><circle cx="506" cy="420" r="1"/><circle cx="559" cy="588" r="2"/><circle cx="391" cy="588" r="1"/><circle cx="875" cy="826" r="1"/><circle cx="501" cy="331" r="1"/><circle cx="1333" cy="599" r="2"/><circle cx="901" cy="633" r="2"/><circle cx="167" cy="999" r="1.5"/><circle cx="322" cy="379" r="1"/><circle cx="554" cy="520" r="1"/><circle cx="511" cy="589" r="1.5"/><circle cx="1230" cy="518" r="1.5"/><circle cx="250" cy="919" r="1"/><circle cx="1111" cy="530" r="1"/><circle cx="937" cy="551" r="1.5"/><circle cx="131" cy="404" r="1.5"/><circle cx="738" cy="641" r="2"/><circle cx="243" cy="438" r="1.5"/><circle cx="643" cy="854" r="2"/><circle cx="911" cy="713" r="2"/><circle cx="877" cy="374" r="1"/><circle cx="753" cy="795" r="2"/><circle cx="482" cy="478" r="1"/><circle cx="1243" cy="905" r="2"/><circle cx="525" cy="605" r="2"/><circle cx="1305" cy="380" r="2"/><circle cx="321" cy="992" r="1"/><circle cx="1013" cy="988" r="1.5"/><circle cx="421" cy="922" r="2"/><circle cx="579" cy="413" r="2"/><circle cx="1220" cy="501" r="2"/><circle cx="583" cy="618" r="2"/><circle cx="389" cy="531" r="1.5"/><circle cx="964" cy="630" r="2"/><circle cx="1137" cy="466" r="1"/><circle cx="1169" cy="358" r="1"/><circle cx="878" cy="985" r="2"/><circle cx="156" cy="552" r="1"/><circle cx="728" cy="595" r="1.5"/><circle cx="882" cy="525" r="2"/><circle cx="843" cy="386" r="2"/><circle cx="1155" cy="741" r="1"/><circle cx="863" cy="703" r="1"/><circle cx="728" cy="933" r="1"/><circle cx="512" cy="390" r="2"/><circle cx="1096" cy="835" r="1.5"/><circle cx="160" cy="613" r="1"/><circle cx="316" cy="768" r="2"/><circle cx="111" cy="824" r="1"/><circle cx="865" cy="853" r="2"/><circle cx="887" cy="767" r="2"/><circle cx="1072" cy="605" r="2"/><circle cx="728" cy="377" r="1"/><circle cx="804" cy="725" r="2"/><circle cx="885" cy="650" r="2"/><circle cx="204" cy="904" r="2"/><circle cx="391" cy="778" r="1.5"/><circle cx="1104" cy="591" r="1.5"/><circle cx="865" cy="621" r="1.5"/><circle cx="719" cy="871" r="1.5"/><circle cx="1201" cy="633" r="2"/><circle cx="1411" cy="384" r="2"/><circle cx="39" cy="675" r="2"/><circle cx="1289" cy="435" r="2"/><circle cx="782" cy="955" r="1.5"/><circle cx="479" cy="928" r="1.5"/><circle cx="1452" cy="537" r="1.5"/><circle cx="109" cy="354" r="1"/><circle cx="103" cy="894" r="1"/><circle cx="107" cy="924" r="1.5"/><circle cx="641" cy="885" r="1.5"/><circle cx="356" cy="558" r="1"/><circle cx="123" cy="764" r="2"/><circle cx="455" cy="325" r="1.5"/><circle cx="1327" cy="715" r="1"/><circle cx="1282" cy="525" r="1"/><circle cx="866" cy="405" r="1"/><circle cx="647" cy="437" r="1"/><circle cx="992" cy="849" r="1.5"/><circle cx="724" cy="351" r="2"/><circle cx="114" cy="909" r="1"/><circle cx="853" cy="669" r="2"/><circle cx="92" cy="315" r="1.5"/><circle cx="1206" cy="368" r="1"/><circle cx="695" cy="928" r="1"/><circle cx="787" cy="466" r="1.5"/><circle cx="1255" cy="791" r="1.5"/><circle cx="515" cy="328" r="1"/><circle cx="1041" cy="629" r="1.5"/><circle cx="324" cy="978" r="2"/><circle cx="679" cy="447" r="1"/><circle cx="1434" cy="424" r="1"/><circle cx="183" cy="714" r="2"/><circle cx="695" cy="779" r="1.5"/><circle cx="1366" cy="636" r="1"/><circle cx="324" cy="682" r="1.5"/><circle cx="1369" cy="409" r="1.5"/><circle cx="1343" cy="483" r="1.5"/><circle cx="787" cy="783" r="1.5"/><circle cx="1438" cy="553" r="2"/><circle cx="1431" cy="787" r="1"/><circle cx="1119" cy="807" r="1.5"/><circle cx="366" cy="534" r="1"/><circle cx="1423" cy="963" r="2"/><circle cx="426" cy="478" r="1"/><circle cx="1426" cy="936" r="1"/><circle cx="179" cy="388" r="2"/><circle cx="1132" cy="487" r="1.5"/><circle cx="1386" cy="951" r="1"/><circle cx="966" cy="907" r="1"/><circle cx="680" cy="679" r="1.5"/><circle cx="1232" cy="764" r="2"/><circle cx="1296" cy="795" r="1.5"/><circle cx="1386" cy="332" r="1.5"/><circle cx="612" cy="559" r="2"/><circle cx="1299" cy="799" r="2"/><circle cx="1308" cy="967" r="2"/><circle cx="746" cy="905" r="1"/><circle cx="1465" cy="853" r="1.5"/><circle cx="1035" cy="572" r="2"/><circle cx="117" cy="805" r="2"/><circle cx="858" cy="878" r="1"/><circle cx="1466" cy="997" r="1"/><circle cx="1329" cy="554" r="1.5"/><circle cx="1212" cy="691" r="1.5"/><circle cx="287" cy="975" r="1"/><circle cx="380" cy="980" r="1"/><circle cx="283" cy="417" r="2"/><circle cx="105" cy="944" r="2"/><circle cx="953" cy="914" r="2"/><circle cx="849" cy="879" r="2"/><circle cx="620" cy="566" r="1.5"/><circle cx="1448" cy="610" r="1"/><circle cx="1172" cy="742" r="1"/><circle cx="189" cy="981" r="1.5"/><circle cx="1157" cy="463" r="1"/><circle cx="390" cy="414" r="1.5"/><circle cx="616" cy="947" r="2"/><circle cx="198" cy="786" r="1"/><circle cx="744" cy="412" r="1.5"/><circle cx="1199" cy="781" r="2"/><circle cx="1271" cy="929" r="2"/><circle cx="890" cy="380" r="2"/><circle cx="433" cy="320" r="2"/><circle cx="729" cy="438" r="1.5"/><circle cx="730" cy="345" r="1.5"/><circle cx="482" cy="467" r="2"/><circle cx="647" cy="307" r="1"/><circle cx="691" cy="585" r="2"/><circle cx="510" cy="733" r="2"/><circle cx="218" cy="918" r="1.5"/><circle cx="357" cy="473" r="1"/><circle cx="1030" cy="425" r="1.5"/><circle cx="720" cy="616" r="1"/><circle cx="1438" cy="590" r="2"/><circle cx="57" cy="400" r="2"/><circle cx="1155" cy="713" r="1"/><circle cx="1138" cy="987" r="1"/><circle cx="1246" cy="977" r="2"/><circle cx="1463" cy="718" r="2"/><circle cx="17" cy="745" r="1.5"/><circle cx="1034" cy="407" r="1"/><circle cx="1052" cy="618" r="1.5"/><circle cx="954" cy="344" r="2"/><circle cx="1162" cy="452" r="2"/><circle cx="1356" cy="435" r="2"/><circle cx="1358" cy="650" r="1"/><circle cx="858" cy="806" r="1.5"/><circle cx="1040" cy="955" r="1"/><circle cx="130" cy="357" r="1.5"/><circle cx="628" cy="624" r="1"/><circle cx="1366" cy="901" r="2"/><circle cx="1064" cy="601" r="1.5"/><circle cx="101" cy="895" r="1.5"/><circle cx="478" cy="628" r="1"/><circle cx="42" cy="892" r="1.5"/><circle cx="505" cy="922" r="2"/><circle cx="104" cy="738" r="1.5"/><circle cx="329" cy="359" r="2"/><circle cx="1260" cy="742" r="1.5"/><circle cx="365" cy="858" r="1.5"/><circle cx="314" cy="546" r="1.5"/><circle cx="846" cy="458" r="1"/><circle cx="721" cy="772" r="1.5"/><circle cx="938" cy="602" r="1.5"/><circle cx="207" cy="486" r="2"/><circle cx="1022" cy="486" r="2"/><circle cx="1435" cy="697" r="1"/><circle cx="984" cy="563" r="2"/><circle cx="569" cy="877" r="1.5"/><circle cx="1288" cy="309" r="1.5"/></g></g><path d="M-30 402 Q0 390 150.0 362.0 Q300 334 450.0 315.0 Q600 296 750.0 286.5 Q900 277 1050.0 272.5 Q1200 268 1333.0 265.0 Q1466 262 1483.0 261.5 L1500 261" fill="none" stroke="#3b5f9a" stroke-width="4" opacity="0.55" filter="url(#eb3)"/><g fill="#9aa"><circle cx="184" cy="219" r="1"/><circle cx="1460" cy="104" r="1"/><circle cx="352" cy="220" r="1"/><circle cx="1248" cy="61" r="1"/><circle cx="448" cy="124" r="1"/><circle cx="194" cy="53" r="1"/><circle cx="583" cy="30" r="1"/><circle cx="212" cy="151" r="1"/><circle cx="441" cy="229" r="1"/><circle cx="1409" cy="168" r="1"/><circle cx="403" cy="190" r="1"/><circle cx="497" cy="217" r="1"/><circle cx="621" cy="173" r="1"/><circle cx="1101" cy="176" r="1"/><circle cx="1103" cy="86" r="1"/><circle cx="223" cy="92" r="1"/><circle cx="1405" cy="9" r="1"/><circle cx="414" cy="77" r="1"/><circle cx="645" cy="218" r="1"/><circle cx="252" cy="26" r="1"/><circle cx="26" cy="85" r="1"/><circle cx="1065" cy="113" r="1"/><circle cx="947" cy="128" r="1"/><circle cx="528" cy="102" r="1"/><circle cx="60" cy="238" r="1"/><circle cx="1074" cy="24" r="1"/><circle cx="297" cy="196" r="1"/><circle cx="744" cy="187" r="1"/><circle cx="1102" cy="36" r="1"/><circle cx="1206" cy="50" r="1"/><circle cx="203" cy="187" r="1"/><circle cx="1195" cy="76" r="1"/><circle cx="565" cy="184" r="1"/><circle cx="431" cy="111" r="1"/><circle cx="1455" cy="32" r="1"/><circle cx="1383" cy="222" r="1"/><circle cx="1461" cy="61" r="1"/><circle cx="291" cy="109" r="1"/><circle cx="251" cy="231" r="1"/><circle cx="837" cy="210" r="1"/></g></svg>
<div class="t" style="left:437.0px;top:657.8px;font-size:39.24px;font-weight:bold;color:#fff;transform:scaleX(0.9815);">COVID-19 Clustering Analysis Tool</div>
<div class="t" style="left:199.0px;top:734.8px;font-size:20.35px;color:#f2f2f2;transform:scaleX(0.9964);">Since its emergence in late 2019, the COVID-19 pandemic has significantly impacted public health, especially in regions like</div>
<div class="t" style="left:199.0px;top:769.8px;font-size:20.35px;color:#f2f2f2;transform:scaleX(1.0510);">Florida, which experienced waves of infections. Understanding the spread of the virus is crucial for designing effective</div>
<div class="t" style="left:199.0px;top:805.8px;font-size:20.35px;color:#f2f2f2;transform:scaleX(1.0174);">interventions. This web application focuses on visualizing and analyzing COVID-19 infection patterns across Florida using</div>
<div class="t" style="left:199.0px;top:841.8px;font-size:20.35px;color:#f2f2f2;transform:scaleX(0.9650);">advanced clustering algorithms.</div>
<div class="t" style="left:409.0px;top:897.3px;font-size:23.26px;font-weight:bold;color:#fff;transform:scaleX(0.9858);">Currently Available Clustering Methods (Hover To Learn More!):</div>
<div class="t" style="left:664.0px;top:954.0px;font-size:18.90px;font-weight:bold;color:#fff;transform:scaleX(1.0282);">K-Means Clustering</div>
<div class="t" style="left:665.0px;top:992.0px;font-size:18.90px;font-weight:bold;color:#fff;transform:scaleX(1.0056);">DBSCAN Clustering</div>
<div class="t" style="left:649.0px;top:1030.0px;font-size:18.90px;font-weight:bold;color:#fff;transform:scaleX(1.0193);">Hierarchical Clustering</div>
<div style="position:absolute;left:359px;top:1088px;width:792px;height:478px;border-radius:10px;background:rgba(241,242,244,0.965)"></div>
<div class="t" style="left:384.0px;top:1117.0px;font-size:18.90px;font-weight:bold;color:#222;transform:scaleX(1.0312);">Start Date:</div>
<div style="position:absolute;left:384px;top:1146px;width:740px;height:42px;box-sizing:border-box;background:#fff;border:1.5px solid #c9c9c9;border-radius:4px"></div>
<div class="t" style="left:384.0px;top:1214.0px;font-size:18.90px;font-weight:bold;color:#222;transform:scaleX(1.0114);">End Date:</div>
<div style="position:absolute;left:384px;top:1242px;width:740px;height:42px;box-sizing:border-box;background:#fff;border:1.5px solid #c9c9c9;border-radius:4px"></div>
<div class="t" style="left:384.0px;top:1311.0px;font-size:18.90px;font-weight:bold;color:#222;transform:scaleX(1.0312);">Clustering Model:</div>
<div style="position:absolute;left:384px;top:1339px;width:740px;height:42px;box-sizing:border-box;background:#fff;border:1.5px solid #c9c9c9;border-radius:4px"></div>
<div class="t" style="left:384.0px;top:1407.0px;font-size:18.90px;font-weight:bold;color:#222;transform:scaleX(1.0165);">Number of Clusters:</div>
<div style="position:absolute;left:384px;top:1435px;width:740px;height:42px;box-sizing:border-box;background:#fff;border:1.5px solid #c9c9c9;border-radius:4px"></div>
<div class="t" style="left:398.0px;top:1157.0px;font-size:18.90px;color:#757575;transform:scaleX(0.8655);">Enter date as MM/DD/YYYY</div>
<div class="t" style="left:398.0px;top:1253.0px;font-size:18.90px;color:#757575;transform:scaleX(0.8655);">Enter date as MM/DD/YYYY</div>
<div class="t" style="left:398.0px;top:1350.0px;font-size:18.90px;color:#111;transform:scaleX(0.8553);">K-Means</div>
<div class="t" style="left:398.0px;top:1447.0px;font-size:18.90px;color:#111;">5</div>
<div style="position:absolute;left:384px;top:1499px;width:742px;height:43px;border-radius:4px;background:#0a4d8c"></div>
<div class="t" style="left:729.0px;top:1510.0px;font-size:18.90px;color:#fff;transform:scaleX(0.8500);">Submit</div>
<div class="t" style="left:599.0px;top:1610.4px;font-size:29.07px;font-weight:bold;color:#fff;transform:scaleX(1.0130);">Heatmap Visualization</div>
<div class="t" style="left:199.0px;top:1675.8px;font-size:20.35px;color:#eee;transform:scaleX(0.9660);">[Heatmap will be displayed here]</div>
<svg style="position:absolute;left:64px;top:1787px" width="1447" height="1116" viewBox="0 0 1447 1116" font-family="Liberation Sans, sans-serif"><defs>
<filter id="bl8" filterUnits="userSpaceOnUse" x="-3000" y="-3000" width="9000" height="9000"><feGaussianBlur stdDeviation="8"/></filter>
<filter id="bl14" filterUnits="userSpaceOnUse" x="-3000" y="-3000" width="9000" height="9000"><feGaussianBlur stdDeviation="14"/></filter>
<filter id="bl24" filterUnits="userSpaceOnUse" x="-3000" y="-3000" width="9000" height="9000"><feGaussianBlur stdDeviation="24"/></filter>
<filter id="sh" x="-20%" y="-20%" width="140%" height="140%"><feGaussianBlur stdDeviation="6"/></filter>
<radialGradient id="hp"><stop offset="0" stop-color="#7a6ee8" stop-opacity="0.55"/><stop offset="1" stop-color="#7a6ee8" stop-opacity="0"/></radialGradient>
<radialGradient id="hb"><stop offset="0" stop-color="#4f8cf0" stop-opacity="0.65"/><stop offset="1" stop-color="#4f8cf0" stop-opacity="0"/></radialGradient>
<radialGradient id="hc"><stop offset="0" stop-color="#3ee8f0" stop-opacity="0.9"/><stop offset="0.5" stop-color="#4aa8f0" stop-opacity="0.6"/><stop offset="1" stop-color="#4f8cf0" stop-opacity="0"/></radialGradient>
<radialGradient id="hm"><stop offset="0" stop-color="#b040c0" stop-opacity="0.7"/><stop offset="1" stop-color="#9040d0" stop-opacity="0"/></radialGradient>
<radialGradient id="hot"><stop offset="0" stop-color="#ff0000"/><stop offset="0.35" stop-color="#ff3000"/><stop offset="0.6" stop-color="#ffc000" stop-opacity="0.95"/><stop offset="0.8" stop-color="#a0e020" stop-opacity="0.7"/><stop offset="1" stop-color="#40d040" stop-opacity="0"/></radialGradient>
<radialGradient id="grn"><stop offset="0" stop-color="#30d040" stop-opacity="0.95"/><stop offset="0.55" stop-color="#90e030" stop-opacity="0.7"/><stop offset="1" stop-color="#60c0c0" stop-opacity="0"/></radialGradient>
</defs><rect x="0" y="0" width="1447" height="1116" fill="#aad3df"/><path d="M0.0 0.0 L808.0 0.0 L816.0 113.0 L826.0 313.0 L834.0 513.0 L842.0 663.0 L838.0 773.0 L826.0 853.0 L814.0 903.0 L786.0 953.0 L736.0 1003.0 L696.0 1063.0 L676.0 1116.0 L386.0 1116.0 L376.0 1053.0 L356.0 993.0 L321.0 938.0 L271.0 893.0 L221.0 853.0 L171.0 808.0 L141.0 758.0 L124.0 718.0 L96.0 675.0 L0.0 663.0 Z" fill="#e4ecd2"/><rect x="116" y="183" width="90" height="70" fill="#cfe8b8" opacity="0.85" filter="url(#bl8)"/><rect x="246" y="203" width="80" height="60" fill="#cfe8b8" opacity="0.85" filter="url(#bl8)"/><rect x="386" y="223" width="90" height="70" fill="#cfe8b8" opacity="0.85" filter="url(#bl8)"/><rect x="236" y="333" width="100" height="80" fill="#cfe8b8" opacity="0.85" filter="url(#bl8)"/><rect x="86" y="363" width="80" height="60" fill="#cfe8b8" opacity="0.85" filter="url(#bl8)"/><rect x="496" y="43" width="140" height="90" fill="#cfe8b8" opacity="0.85" filter="url(#bl8)"/><rect x="636" y="63" width="90" height="100" fill="#cfe8b8" opacity="0.85" filter="url(#bl8)"/><rect x="336" y="633" width="230" height="60" fill="#cfe8b8" opacity="0.85" filter="url(#bl8)"/><rect x="186" y="713" width="160" height="120" fill="#cfe8b8" opacity="0.85" filter="url(#bl8)"/><rect x="366" y="713" width="200" height="220" fill="#cfe8b8" opacity="0.85" filter="url(#bl8)"/><rect x="416" y="513" width="120" height="90" fill="#cfe8b8" opacity="0.85" filter="url(#bl8)"/><rect x="266" y="453" width="90" height="60" fill="#cfe8b8" opacity="0.85" filter="url(#bl8)"/><path d="M236.0 863.0 C246.0 871.3 279.3 894.7 296.0 913.0 C312.7 931.3 324.3 951.3 336.0 973.0 C347.7 994.7 358.5 1019.2 366.0 1043.0 C373.5 1066.8 378.5 1103.8 381.0 1116.0" fill="none" stroke="#9cc89a" stroke-width="3"/><path d="M308.0 0.0 C320.3 -10.5 373.7 -7.2 388.0 0.0 C402.3 7.2 395.2 29.5 394.0 43.0 C392.8 56.5 390.7 73.3 381.0 81.0 C371.3 88.7 347.2 92.0 336.0 89.0 C324.8 86.0 318.7 77.8 314.0 63.0 C309.3 48.2 295.7 10.5 308.0 0.0 Z" fill="#f0c0d0" opacity="0.55" stroke="#e0a0b8" stroke-width="2"/><path d="M511.0 243.0 C521.0 240.5 535.2 248.0 546.0 258.0 C556.8 268.0 568.5 283.8 576.0 303.0 C583.5 322.2 589.3 351.3 591.0 373.0 C592.7 394.7 591.0 415.5 586.0 433.0 C581.0 450.5 571.0 468.0 561.0 478.0 C551.0 488.0 539.3 493.8 526.0 493.0 C512.7 492.2 493.5 483.0 481.0 473.0 C468.5 463.0 462.2 443.0 451.0 433.0 C439.8 423.0 421.5 423.0 414.0 413.0 C406.5 403.0 404.0 386.3 406.0 373.0 C408.0 359.7 417.7 343.8 426.0 333.0 C434.3 322.2 446.0 318.0 456.0 308.0 C466.0 298.0 476.8 283.8 486.0 273.0 C495.2 262.2 501.0 245.5 511.0 243.0 Z" fill="#aad3df"/><path d="M0.0 203.0 C9.3 204.7 38.3 207.2 56.0 213.0 C73.7 218.8 76.0 233.0 106.0 238.0 C136.0 243.0 186.0 243.0 236.0 243.0 C286.0 243.0 362.7 239.7 406.0 238.0 C449.3 236.3 472.7 234.7 496.0 233.0 C519.3 231.3 537.7 228.8 546.0 228.0" fill="none" stroke="#f0a39a" stroke-width="2.5" opacity="0.8"/><path d="M46.0 3.0 C49.3 21.3 59.3 78.0 66.0 113.0 C72.7 148.0 80.2 179.7 86.0 213.0 C91.8 246.3 97.7 279.7 101.0 313.0 C104.3 346.3 101.8 379.7 106.0 413.0 C110.2 446.3 122.7 496.3 126.0 513.0" fill="none" stroke="#f0a39a" stroke-width="2.5" opacity="0.8"/><path d="M126.0 13.0 C127.7 29.7 129.3 86.3 136.0 113.0 C142.7 139.7 154.3 156.3 166.0 173.0 C177.7 189.7 197.7 189.7 206.0 213.0 C214.3 236.3 211.0 279.7 216.0 313.0 C221.0 346.3 227.7 383.0 236.0 413.0 C244.3 443.0 261.0 479.7 266.0 493.0" fill="none" stroke="#f0a39a" stroke-width="2.5" opacity="0.8"/><path d="M216.0 3.0 C224.3 18.0 256.0 64.7 266.0 93.0 C276.0 121.3 271.0 143.0 276.0 173.0 C281.0 203.0 289.3 243.0 296.0 273.0 C302.7 303.0 302.7 329.7 316.0 353.0 C329.3 376.3 359.3 394.7 376.0 413.0 C392.7 431.3 409.3 454.7 416.0 463.0" fill="none" stroke="#f0a39a" stroke-width="2.5" opacity="0.8"/><path d="M376.0 13.0 C379.3 29.7 389.7 79.7 396.0 113.0 C402.3 146.3 409.0 186.3 414.0 213.0 C419.0 239.7 424.0 263.0 426.0 273.0" fill="none" stroke="#f0a39a" stroke-width="2.5" opacity="0.8"/><path d="M496.0 13.0 C502.7 21.3 516.0 51.3 536.0 63.0 C556.0 74.7 586.0 78.0 616.0 83.0 C646.0 88.0 699.3 91.3 716.0 93.0" fill="none" stroke="#f0a39a" stroke-width="2.5" opacity="0.8"/><path d="M0.0 473.0 C14.3 468.0 55.0 453.0 86.0 443.0 C117.0 433.0 156.0 414.7 186.0 413.0 C216.0 411.3 237.7 428.0 266.0 433.0 C294.3 438.0 332.7 441.3 356.0 443.0 C379.3 444.7 382.7 436.3 406.0 443.0 C429.3 449.7 474.3 473.0 496.0 483.0 C517.7 493.0 529.3 499.7 536.0 503.0" fill="none" stroke="#f0a39a" stroke-width="2.5" opacity="0.8"/><path d="M66.0 673.0 C77.7 671.3 97.7 665.5 136.0 663.0 C174.3 660.5 259.3 658.8 296.0 658.0 C332.7 657.2 329.3 658.8 356.0 658.0 C382.7 657.2 419.3 653.0 456.0 653.0 C492.7 653.0 536.0 654.7 576.0 658.0 C616.0 661.3 666.0 668.8 696.0 673.0 C726.0 677.2 746.0 681.3 756.0 683.0" fill="none" stroke="#f0a39a" stroke-width="2.5" opacity="0.8"/><path d="M166.0 733.0 C174.3 743.0 197.7 774.7 216.0 793.0 C234.3 811.3 257.7 829.7 276.0 843.0 C294.3 856.3 302.7 866.3 326.0 873.0 C349.3 879.7 391.0 878.0 416.0 883.0 C441.0 888.0 466.0 899.7 476.0 903.0" fill="none" stroke="#f0a39a" stroke-width="2.5" opacity="0.8"/><path d="M576.0 73.0 C586.0 79.7 622.7 93.0 636.0 113.0 C649.3 133.0 649.3 176.3 656.0 193.0 C662.7 209.7 662.7 208.0 676.0 213.0 C689.3 218.0 716.0 219.7 736.0 223.0 C756.0 226.3 786.0 231.3 796.0 233.0" fill="none" stroke="#f0a39a" stroke-width="2.5" opacity="0.8"/><path d="M546.0 333.0 C551.0 326.3 561.0 306.3 576.0 293.0 C591.0 279.7 612.7 263.0 636.0 253.0 C659.3 243.0 702.7 236.3 716.0 233.0" fill="none" stroke="#f0a39a" stroke-width="2.5" opacity="0.8"/><path d="M216.0 3.0 C219.3 13.0 227.7 44.7 236.0 63.0 C244.3 81.3 259.3 94.7 266.0 113.0 C272.7 131.3 273.5 146.3 276.0 173.0 C278.5 199.7 276.0 241.3 281.0 273.0 C286.0 304.7 295.2 341.3 306.0 363.0 C316.8 384.7 329.3 391.3 346.0 403.0 C362.7 414.7 387.7 423.0 406.0 433.0 C424.3 443.0 441.0 453.0 456.0 463.0 C471.0 473.0 489.3 488.0 496.0 493.0" fill="none" stroke="#777" stroke-width="2" opacity="0.6"/><path d="M276.0 113.0 C289.3 114.7 326.0 113.0 356.0 123.0 C386.0 133.0 427.7 156.3 456.0 173.0 C484.3 189.7 506.0 206.3 526.0 223.0 C546.0 239.7 554.3 256.3 576.0 273.0 C597.7 289.7 629.3 306.3 656.0 323.0 C682.7 339.7 722.7 364.7 736.0 373.0" fill="none" stroke="#777" stroke-width="2" opacity="0.6"/><path d="M0.0 373.0 C9.3 379.7 40.0 399.7 56.0 413.0 C72.0 426.3 89.3 446.3 96.0 453.0" fill="none" stroke="#777" stroke-width="2" opacity="0.6"/><g filter="url(#bl24)"><ellipse cx="136" cy="63" rx="120" ry="70" fill="#9a8ee8" opacity="0.45"/><ellipse cx="266" cy="93" rx="110" ry="90" fill="#9a8ee8" opacity="0.45"/><ellipse cx="406" cy="83" rx="90" ry="70" fill="#9a8ee8" opacity="0.35"/><ellipse cx="266" cy="193" rx="90" ry="60" fill="#9a8ee8" opacity="0.35"/><ellipse cx="196" cy="263" rx="60" ry="60" fill="#9a8ee8" opacity="0.3"/><ellipse cx="356" cy="283" rx="60" ry="50" fill="#9a8ee8" opacity="0.35"/><ellipse cx="536" cy="93" rx="40" ry="50" fill="#9a8ee8" opacity="0.3"/><ellipse cx="636" cy="143" rx="50" ry="60" fill="#9a8ee8" opacity="0.35"/><ellipse cx="576" cy="213" rx="40" ry="40" fill="#9a8ee8" opacity="0.3"/><ellipse cx="366" cy="383" rx="40" ry="50" fill="#7a7ae8" opacity="0.45"/><ellipse cx="336" cy="473" rx="50" ry="40" fill="#9a8ee8" opacity="0.3"/><ellipse cx="436" cy="463" rx="40" ry="30" fill="#9a8ee8" opacity="0.3"/><ellipse cx="536" cy="273" rx="40" ry="30" fill="#7a8ae8" opacity="0.5"/><ellipse cx="266" cy="513" rx="60" ry="40" fill="#9a8ee8" opacity="0.3"/><ellipse cx="406" cy="533" rx="60" ry="40" fill="#9a8ee8" opacity="0.3"/><ellipse cx="56" cy="213" rx="60" ry="80" fill="#9a8ee8" opacity="0.35"/><ellipse cx="26" cy="333" rx="40" ry="70" fill="#5a80f0" opacity="0.6"/><ellipse cx="46" cy="393" rx="50" ry="40" fill="#6a70e8" opacity="0.5"/><ellipse cx="66" cy="473" rx="90" ry="50" fill="#7a7ae8" opacity="0.5"/><ellipse cx="166" cy="513" rx="60" ry="40" fill="#5a80f0" opacity="0.55"/><ellipse cx="36" cy="533" rx="60" ry="40" fill="#5a80f0" opacity="0.6"/><ellipse cx="96" cy="613" rx="40" ry="60" fill="#4a90f0" opacity="0.6"/><ellipse cx="136" cy="663" rx="18" ry="42" fill="#40e8f0" opacity="0.85"/><ellipse cx="126" cy="733" rx="40" ry="40" fill="#5a80f0" opacity="0.5"/><ellipse cx="-34" cy="563" rx="70" ry="90" fill="#5a80f0" opacity="0.5"/><ellipse cx="151" cy="783" rx="45" ry="40" fill="#7a7ae8" opacity="0.4"/><ellipse cx="196" cy="833" rx="50" ry="40" fill="#6a80f0" opacity="0.45"/><ellipse cx="256" cy="683" rx="60" ry="50" fill="#9a8ee8" opacity="0.3"/><ellipse cx="216" cy="603" rx="40" ry="40" fill="#9a8ee8" opacity="0.3"/><ellipse cx="396" cy="803" rx="40" ry="40" fill="#9a8ee8" opacity="0.3"/><ellipse cx="456" cy="653" rx="50" ry="40" fill="#9a8ee8" opacity="0.25"/><ellipse cx="316" cy="773" rx="40" ry="40" fill="#9a8ee8" opacity="0.25"/><ellipse cx="696" cy="43" rx="60" ry="50" fill="#6a80f0" opacity="0.5"/><ellipse cx="756" cy="33" rx="40" ry="50" fill="#5a80f0" opacity="0.6"/><ellipse cx="776" cy="113" rx="30" ry="60" fill="#7a7ae8" opacity="0.45"/><ellipse cx="736" cy="213" rx="40" ry="50" fill="#9a8ee8" opacity="0.35"/><ellipse cx="496" cy="293" rx="50" ry="40" fill="#6a80f0" opacity="0.45"/><ellipse cx="536" cy="433" rx="40" ry="40" fill="#7a7ae8" opacity="0.4"/><ellipse cx="586" cy="483" rx="30" ry="40" fill="#6a80f0" opacity="0.4"/><ellipse cx="791" cy="363" rx="25" ry="70" fill="#a050d0" opacity="0.5"/><ellipse cx="786" cy="493" rx="25" ry="70" fill="#b040c0" opacity="0.55"/><ellipse cx="781" cy="633" rx="30" ry="80" fill="#b040c0" opacity="0.55"/><ellipse cx="771" cy="773" rx="35" ry="80" fill="#a040c8" opacity="0.55"/><ellipse cx="736" cy="973" rx="45" ry="70" fill="#9040d0" opacity="0.5"/><ellipse cx="706" cy="1053" rx="45" ry="60" fill="#8a50d8" opacity="0.4"/><ellipse cx="636" cy="813" rx="40" ry="50" fill="#9a8ee8" opacity="0.3"/><ellipse cx="576" cy="893" rx="40" ry="50" fill="#9a8ee8" opacity="0.3"/></g><path d="M0.0 685.0 C4.2 685.7 18.8 671.0 25.0 689.0 C31.2 707.0 30.3 764.2 37.0 793.0 C43.7 821.8 51.8 839.0 65.0 862.0 C78.2 885.0 93.2 916.2 116.0 931.0 C138.8 945.8 182.0 942.5 202.0 951.0 C222.0 959.5 221.7 965.3 236.0 982.0 C250.3 998.7 278.2 1028.7 288.0 1051.0 C297.8 1073.3 293.8 1105.2 295.0 1116.0" fill="none" stroke="#a58fb5" stroke-width="4.5"/><path d="M0.0 671.0 C7.7 671.7 35.8 658.0 46.0 675.0 C56.2 692.0 52.7 743.3 61.0 773.0 C69.3 802.7 83.5 831.3 96.0 853.0 C108.5 874.7 116.0 891.0 136.0 903.0 C156.0 915.0 194.3 913.3 216.0 925.0 C237.7 936.7 251.0 953.3 266.0 973.0 C281.0 992.7 297.7 1019.2 306.0 1043.0 C314.3 1066.8 314.3 1103.8 316.0 1116.0" fill="none" stroke="#b9a9c8" stroke-width="2"/><path d="M1125.0 1116.0 C1121.4 1112.6 1097.6 1097.1 1089.0 1082.0 C1080.4 1066.9 1043.3 985.3 1039.0 965.0 C1034.7 944.7 1037.4 901.0 1046.0 879.0 C1054.6 857.0 1117.1 777.6 1125.0 745.0 C1132.9 712.4 1125.2 593.9 1125.0 553.0 C1124.8 512.1 1119.2 363.5 1123.0 336.0 C1126.8 308.5 1130.6 298.9 1163.0 278.0 C1195.4 257.1 1418.6 142.1 1447.0 127.0" fill="none" stroke="#a58fb5" stroke-width="3.5"/><path d="M1447.0 773.0 C1438.5 771.3 1411.2 771.3 1396.0 763.0 C1380.8 754.7 1369.3 736.3 1356.0 723.0 C1342.7 709.7 1322.7 689.7 1316.0 683.0" fill="none" stroke="#8fb0e8" stroke-width="2" stroke-dasharray="8 6"/><path d="M816.0 743.0 C836.0 739.7 896.0 733.0 936.0 723.0 C976.0 713.0 1014.3 698.0 1056.0 683.0 C1097.7 668.0 1151.0 649.7 1186.0 633.0 C1221.0 616.3 1237.7 604.7 1266.0 583.0 C1294.3 561.3 1331.0 526.3 1356.0 503.0 C1381.0 479.7 1406.0 453.0 1416.0 443.0" fill="none" stroke="#8fb0e8" stroke-width="2" stroke-dasharray="8 6"/><path d="M836.0 743.0 C852.7 754.7 902.7 791.3 936.0 813.0 C969.3 834.7 1004.3 856.3 1036.0 873.0 C1067.7 889.7 1111.0 906.3 1126.0 913.0" fill="none" stroke="#8fb0e8" stroke-width="2" stroke-dasharray="8 6"/><path d="M56.0 673.0 C56.8 696.3 58.5 739.2 61.0 813.0 C63.5 886.8 69.3 1065.5 71.0 1116.0" fill="none" stroke="#8fb0e8" stroke-width="2" stroke-dasharray="8 6"/><path d="M196.0 813.0 C186.0 829.7 152.7 879.7 136.0 913.0 C119.3 946.3 104.3 979.2 96.0 1013.0 C87.7 1046.8 87.7 1098.8 86.0 1116.0" fill="none" stroke="#8fb0e8" stroke-width="2" stroke-dasharray="8 6"/><path d="M1255.0 470.0 C1255.8 472.7 1275.8 486.8 1286.0 495.0 C1296.2 503.2 1307.7 512.7 1316.0 519.0 C1324.3 525.3 1326.0 529.7 1336.0 533.0 C1346.0 536.3 1362.7 541.3 1376.0 539.0 C1389.3 536.7 1404.2 525.3 1416.0 519.0 C1427.8 512.7 1441.8 507.3 1447.0 501.0 C1452.2 494.7 1451.3 481.5 1447.0 481.0 C1442.7 480.5 1431.2 491.8 1421.0 498.0 C1410.8 504.2 1398.5 513.8 1386.0 518.0 C1373.5 522.2 1356.8 524.5 1346.0 523.0 C1335.2 521.5 1331.8 516.3 1321.0 509.0 C1310.2 501.7 1292.0 485.5 1281.0 479.0 C1270.0 472.5 1254.2 467.3 1255.0 470.0 Z" fill="#eeeedd"/><ellipse cx="1436" cy="483" rx="14" ry="30" fill="#cde6b0"/><circle cx="-620" cy="-480" r="897" fill="rgba(255,0,0,0.22)" stroke="#ff0000" stroke-width="5"/><path d="M766.0 295.0 C807.7 290.8 857.2 304.3 896.0 323.0 C934.8 341.7 977.3 368.7 999.0 407.0 C1020.7 445.3 1023.5 494.3 1026.0 553.0 C1028.5 611.7 1020.5 692.0 1014.0 759.0 C1007.5 826.0 1001.2 903.5 987.0 955.0 C972.8 1006.5 955.8 1031.7 929.0 1068.0 C902.2 1104.3 864.8 1150.5 826.0 1173.0 C787.2 1195.5 743.8 1212.5 696.0 1203.0 C648.2 1193.5 574.3 1144.2 539.0 1116.0 C503.7 1087.8 497.0 1070.7 484.0 1034.0 C471.0 997.3 463.3 936.2 461.0 896.0 C458.7 855.8 463.8 836.8 470.0 793.0 C476.2 749.2 484.5 685.3 498.0 633.0 C511.5 580.7 526.3 526.5 551.0 479.0 C575.7 431.5 610.2 378.7 646.0 348.0 C681.8 317.3 724.3 299.2 766.0 295.0 Z" fill="rgba(255,0,0,0.2)" stroke="#ff0000" stroke-width="5"/><path d="M797.0 313.0 C846.7 308.8 900.0 320.5 934.0 338.0 C968.0 355.5 986.0 387.2 1001.0 418.0 C1016.0 448.8 1020.5 487.2 1024.0 523.0 C1027.5 558.8 1025.3 596.0 1022.0 633.0 C1018.7 670.0 1019.5 707.3 1004.0 745.0 C988.5 782.7 962.7 832.7 929.0 859.0 C895.3 885.3 834.2 899.7 802.0 903.0 C769.8 906.3 758.7 891.5 736.0 879.0 C713.3 866.5 686.3 845.2 666.0 828.0 C645.7 810.8 628.3 794.3 614.0 776.0 C599.7 757.7 589.3 745.2 580.0 718.0 C570.7 690.8 560.0 653.8 558.0 613.0 C556.0 572.2 555.0 514.7 568.0 473.0 C581.0 431.3 597.8 389.7 636.0 363.0 C674.2 336.3 747.3 317.2 797.0 313.0 Z" fill="rgba(255,0,0,0.22)" stroke="#ff0000" stroke-width="5"/><g filter="url(#bl8)"><ellipse cx="764" cy="543" rx="22" ry="70" fill="#a040c0" opacity="0.45"/><ellipse cx="816" cy="543" rx="14" ry="70" fill="#a040c0" opacity="0.4"/><ellipse cx="758" cy="663" rx="24" ry="70" fill="#a040c0" opacity="0.45"/><ellipse cx="820" cy="663" rx="14" ry="70" fill="#a040c0" opacity="0.4"/><ellipse cx="748" cy="773" rx="26" ry="70" fill="#a040c0" opacity="0.4"/><ellipse cx="816" cy="773" rx="14" ry="70" fill="#a040c0" opacity="0.4"/><ellipse cx="788" cy="553" rx="18" ry="60" fill="#b4c458" opacity="0.8"/><ellipse cx="784" cy="653" rx="20" ry="70" fill="#b4c458" opacity="0.8"/><ellipse cx="776" cy="763" rx="24" ry="70" fill="#b4c458" opacity="0.8"/><ellipse cx="766" cy="833" rx="28" ry="40" fill="#b8c050" opacity="0.85"/><ellipse cx="671" cy="973" rx="28" ry="60" fill="#8a50d0" opacity="0.45"/><ellipse cx="651" cy="1053" rx="28" ry="50" fill="#8a50d0" opacity="0.35"/></g><ellipse cx="681" cy="908" rx="62" ry="50" fill="#50c8e0" opacity="0.5" filter="url(#bl14)"/><ellipse cx="688" cy="906" rx="48" ry="40" fill="url(#grn)"/><circle cx="762" cy="876" r="58" fill="url(#hot)"/><text x="688" y="52" font-size="22" text-anchor="middle" fill="none" stroke="rgba(255,255,255,0.6)" stroke-width="4">Vero Beach</text><text x="688" y="52" font-size="22" text-anchor="middle" fill="#4a4a7a">Vero Beach</text><text x="525" y="368" font-size="20" text-anchor="middle" font-style="italic" fill="#6a80a0">Lake Okeechobee</text><text x="0" y="370" font-size="22" text-anchor="start" fill="none" stroke="rgba(255,255,255,0.6)" stroke-width="4">ta Gorda</text><text x="0" y="370" font-size="22" text-anchor="start" fill="#4a4a7a">ta Gorda</text><text x="95" y="504" font-size="22" text-anchor="middle" fill="none" stroke="rgba(255,255,255,0.6)" stroke-width="4">Fort Myers</text><text x="95" y="504" font-size="22" text-anchor="middle" fill="#4a5a9a">Fort Myers</text><text x="66" y="540" font-size="22" text-anchor="middle" fill="none" stroke="rgba(255,255,255,0.6)" stroke-width="4">Cape Coral</text><text x="66" y="540" font-size="22" text-anchor="middle" fill="#3a4a8a">Cape Coral</text><text x="128" y="730" font-size="22" text-anchor="middle" fill="none" stroke="rgba(255,255,255,0.6)" stroke-width="4">Naples</text><text x="128" y="730" font-size="22" text-anchor="middle" fill="#3a3a5a">Naples</text><text x="410" y="797" font-size="20" text-anchor="middle" font-style="italic" fill="#4a9a4a">Big Cypress</text><text x="410" y="823" font-size="20" text-anchor="middle" font-style="italic" fill="#4a9a4a">National</text><text x="410" y="849" font-size="20" text-anchor="middle" font-style="italic" fill="#4a9a4a">Preserve</text><text x="602" y="681" font-size="19" text-anchor="middle" font-style="italic" fill="#5a7a3a">Everglades</text><text x="602" y="707" font-size="19" text-anchor="middle" font-style="italic" fill="#5a7a3a">and Francis</text><text x="602" y="733" font-size="19" text-anchor="middle" font-style="italic" fill="#5a7a3a">S. Taylor</text><text x="602" y="759" font-size="19" text-anchor="middle" font-style="italic" fill="#5a7a3a">Wildlife</text><text x="602" y="785" font-size="19" text-anchor="middle" font-style="italic" fill="#5a7a3a">Management</text><text x="602" y="811" font-size="19" text-anchor="middle" font-style="italic" fill="#5a7a3a">Area</text><text x="739" y="672" font-size="21" text-anchor="middle" fill="#8a4a6a">Coral Springs</text><text x="818" y="632" font-size="21" text-anchor="middle" fill="#9a5a7a">Boca Raton</text><text x="796" y="738" font-size="21" text-anchor="middle" fill="#8a3a6a">Fort Lauderdale</text><text x="711" y="778" font-size="21" text-anchor="middle" fill="#8a6a8a">Pembroke</text><text x="716" y="804" font-size="21" text-anchor="middle" fill="#8a6a8a">Pines</text><text x="717" y="938" font-size="21" text-anchor="middle" fill="#5a8a5a">Kendall</text><text x="659" y="1030" font-size="21" text-anchor="middle" fill="#5a3a6a">Homestead</text><text x="496" y="1047" font-size="24" text-anchor="middle" font-style="italic" fill="#3a9a3a">Everglades</text><text x="496" y="1078" font-size="24" text-anchor="middle" font-style="italic" fill="#3a9a3a">National</text><text x="496" y="1109" font-size="24" text-anchor="middle" font-style="italic" fill="#3a9a3a">Park</text><text x="1375" y="553" font-size="20" text-anchor="middle" fill="none" stroke="rgba(255,255,255,0.6)" stroke-width="4">Freeport</text><text x="1375" y="553" font-size="20" text-anchor="middle" fill="#555">Freeport</text><text x="1394" y="370" font-size="18" text-anchor="start" font-style="italic" fill="#3a9a3a">North Si</text><text x="1394" y="396" font-size="18" text-anchor="start" font-style="italic" fill="#3a9a3a">- The G</text><text x="1406" y="422" font-size="18" text-anchor="start" font-style="italic" fill="#3a9a3a">Nation</text><text x="1406" y="448" font-size="18" text-anchor="start" font-style="italic" fill="#3a9a3a">Park</text><rect x="667" y="81" width="268" height="404" rx="24" fill="rgba(0,0,0,0.25)" filter="url(#sh)"/><rect x="663" y="75" width="268" height="404" rx="24" fill="#fff"/><path d="M775 477 L797 500 L819 477 Z" fill="#fff"/><path d="M897 97 L911 111 M911 97 L897 111" stroke="#757575" stroke-width="2.2"/><text x="709" y="129" font-size="20.5" font-weight="bold" fill="#2a2a2a" stroke="#2a2a2a" stroke-width="0.25" textLength="26" lengthAdjust="spacingAndGlyphs">#4</text><text x="709" y="161" font-size="20.5" fill="#2a2a2a" stroke="#2a2a2a" stroke-width="0.25" textLength="155" lengthAdjust="spacingAndGlyphs">Mean infection</text><text x="709" y="193" font-size="20.5" fill="#2a2a2a" stroke="#2a2a2a" stroke-width="0.25" textLength="120" lengthAdjust="spacingAndGlyphs">rate: 5.34%</text><text x="709" y="256" font-size="20.5" fill="#2a2a2a" stroke="#2a2a2a" stroke-width="0.25" textLength="143" lengthAdjust="spacingAndGlyphs">Male/Female:</text><text x="709" y="285" font-size="20.5" fill="#2a2a2a" stroke="#2a2a2a" stroke-width="0.25" textLength="166" lengthAdjust="spacingAndGlyphs">47.89%/52.11%</text><text x="709" y="349" font-size="20.5" fill="#2a2a2a" stroke="#2a2a2a" stroke-width="0.25" textLength="155" lengthAdjust="spacingAndGlyphs">White: 81.91%</text><text x="709" y="411" font-size="20.5" fill="#2a2a2a" stroke="#2a2a2a" stroke-width="0.25" textLength="119" lengthAdjust="spacingAndGlyphs">Hispanic or</text><text x="709" y="441" font-size="20.5" fill="#2a2a2a" stroke="#2a2a2a" stroke-width="0.25" textLength="158" lengthAdjust="spacingAndGlyphs">Latino: 15.23%</text><ellipse cx="825" cy="568" rx="24" ry="10" fill="rgba(0,0,0,0.35)" filter="url(#bl8)"/><path d="M797 580 C789 562 764.32 549.5559999999998 764.32 526.6799999999998 A32.68 32.68 0 0 1 829.68 526.6799999999998 C829.68 549.5559999999998 805 562 797 580 Z" fill="#d63e2a"/><path d="M797.0 508.0 L801.1 519.3 L813.2 519.7 L803.7 527.1 L807.0 538.7 L797.0 532.0 L787.0 538.7 L790.3 527.1 L780.8 519.7 L792.9 519.3 Z" fill="#fff"/><ellipse cx="783" cy="780" rx="24" ry="10" fill="rgba(0,0,0,0.35)" filter="url(#bl8)"/><path d="M755 792 C747 774 722.32 761.5559999999998 722.32 738.6799999999998 A32.68 32.68 0 0 1 787.68 738.6799999999998 C787.68 761.5559999999998 763 774 755 792 Z" fill="#d63e2a"/><path d="M755.0 720.0 L759.1 731.3 L771.2 731.7 L761.7 739.1 L765.0 750.7 L755.0 744.0 L745.0 750.7 L748.3 739.1 L738.8 731.7 L750.9 731.3 Z" fill="#fff"/><rect x="1014" y="1085" width="433" height="31" fill="rgba(255,255,255,0.8)"/><rect x="1028" y="1093" width="20" height="7" fill="#0057b7"/><rect x="1028" y="1100" width="20" height="7" fill="#ffd700"/><text x="1054" y="1108" font-size="20" fill="#333"><tspan fill="#0078a8">Leaflet</tspan> | © <tspan fill="#0078a8">OpenStreetMap</tspan> contributors</text><rect x="0" y="0" width="1447" height="1.5" fill="#e07090"/></svg>
<svg style="position:absolute;left:0;top:0" width="4608" height="1800" viewBox="0 0 4608 1800"><line x1="1991" y1="754" x2="2809" y2="754" stroke="#d0d0d0" stroke-width="2.2" stroke-dasharray="2.2 6.5"/><line x1="1991" y1="839" x2="2809" y2="839" stroke="#d0d0d0" stroke-width="2.2" stroke-dasharray="2.2 6.5"/><line x1="1991" y1="925" x2="2809" y2="925" stroke="#d0d0d0" stroke-width="2.2" stroke-dasharray="2.2 6.5"/><line x1="1991" y1="1011" x2="2809" y2="1011" stroke="#d0d0d0" stroke-width="2.2" stroke-dasharray="2.2 6.5"/><line x1="1991" y1="1096" x2="2809" y2="1096" stroke="#d0d0d0" stroke-width="2.2" stroke-dasharray="2.2 6.5"/><line x1="1991" y1="1183" x2="2809" y2="1183" stroke="#d0d0d0" stroke-width="2.2" stroke-dasharray="2.2 6.5"/><line x1="1991" y1="1268" x2="2809" y2="1268" stroke="#d0d0d0" stroke-width="2.2" stroke-dasharray="2.2 6.5"/><line x1="1991" y1="1354" x2="2809" y2="1354" stroke="#d0d0d0" stroke-width="2.2" stroke-dasharray="2.2 6.5"/><line x1="1991" y1="1439" x2="2809" y2="1439" stroke="#d0d0d0" stroke-width="2.2" stroke-dasharray="2.2 6.5"/><line x1="1991" y1="1524" x2="2809" y2="1524" stroke="#d0d0d0" stroke-width="2.2" stroke-dasharray="2.2 6.5"/><line x1="2598.0" y1="668" x2="2598.0" y2="1612" stroke="#8a8a8a" stroke-width="3"/><circle cx="2596.8" cy="743.6" r="6.2" fill="#6c4fd5"/><circle cx="2633.7" cy="754.0" r="6.2" fill="#e40077"/><circle cx="2561.3" cy="754.0" r="6.2" fill="#0a7bf5"/><circle cx="2584.9" cy="754.0" r="6.2" fill="#0a7bf5"/><circle cx="2585.3" cy="743.6" r="6.2" fill="#0582f7"/><circle cx="2593.3" cy="782.0" r="6.2" fill="#136ff0"/><circle cx="2609.0" cy="738.4" r="6.2" fill="#8a29be"/><circle cx="2587.1" cy="780.0" r="6.2" fill="#008afa"/><circle cx="2765.7" cy="754.0" r="6.2" fill="#ff0052"/><circle cx="2592.5" cy="730.6" r="6.2" fill="#0c78f3"/><circle cx="2528.2" cy="754.0" r="6.2" fill="#008bfb"/><circle cx="2589.5" cy="756.6" r="6.2" fill="#0f75f2"/><circle cx="2610.6" cy="746.2" r="6.2" fill="#852fc2"/><circle cx="2602.9" cy="764.4" r="6.2" fill="#0d76f3"/><circle cx="2685.3" cy="754.0" r="6.2" fill="#bf0097"/><circle cx="2586.0" cy="738.4" r="6.2" fill="#0b7af4"/><circle cx="2583.7" cy="748.8" r="6.2" fill="#0582f7"/><circle cx="2605.9" cy="769.6" r="6.2" fill="#0583f8"/><circle cx="2579.6" cy="754.0" r="6.2" fill="#1171f1"/><circle cx="2567.5" cy="754.0" r="6.2" fill="#0682f7"/><circle cx="2571.1" cy="759.2" r="6.2" fill="#077ff6"/><circle cx="2590.0" cy="751.4" r="6.2" fill="#0189fa"/><circle cx="2602.8" cy="748.8" r="6.2" fill="#9320b8"/><circle cx="2679.7" cy="754.0" r="6.2" fill="#e9006f"/><circle cx="2596.0" cy="748.8" r="6.2" fill="#0089fa"/><circle cx="2580.1" cy="769.6" r="6.2" fill="#0582f7"/><circle cx="2596.2" cy="764.4" r="6.2" fill="#7347d0"/><circle cx="2615.9" cy="748.8" r="6.2" fill="#0d78f3"/><circle cx="2760.0" cy="754.0" r="6.2" fill="#ff0052"/><circle cx="2607.8" cy="751.4" r="6.2" fill="#9c17b1"/><circle cx="2703.8" cy="754.0" r="6.2" fill="#b5009e"/><circle cx="2637.9" cy="759.2" r="6.2" fill="#f90059"/><circle cx="2577.3" cy="764.4" r="6.2" fill="#0484f8"/><circle cx="2643.5" cy="754.0" r="6.2" fill="#b5009f"/><circle cx="2621.2" cy="754.0" r="6.2" fill="#7742cd"/><circle cx="2586.4" cy="774.8" r="6.2" fill="#b003a2"/><circle cx="2513.7" cy="754.0" r="6.2" fill="#008bfb"/><circle cx="2769.3" cy="759.2" r="6.2" fill="#ff0052"/><circle cx="2595.8" cy="759.2" r="6.2" fill="#0c78f3"/><circle cx="2591.5" cy="741.0" r="6.2" fill="#0583f8"/><circle cx="2568.4" cy="748.8" r="6.2" fill="#0188f9"/><circle cx="2626.1" cy="756.6" r="6.2" fill="#e0007c"/><circle cx="2614.2" cy="754.0" r="6.2" fill="#0484f8"/><circle cx="2591.1" cy="767.0" r="6.2" fill="#0287f9"/><circle cx="2605.9" cy="743.6" r="6.2" fill="#0682f7"/><circle cx="2595.6" cy="754.0" r="6.2" fill="#136ef0"/><circle cx="2585.0" cy="764.4" r="6.2" fill="#1072f1"/><circle cx="2649.5" cy="754.0" r="6.2" fill="#d70085"/><circle cx="2625.0" cy="748.8" r="6.2" fill="#1072f1"/><circle cx="2654.7" cy="754.0" r="6.2" fill="#c20095"/><circle cx="2592.4" cy="735.8" r="6.2" fill="#097df5"/><circle cx="2565.2" cy="759.2" r="6.2" fill="#097df5"/><circle cx="2592.4" cy="777.4" r="6.2" fill="#0583f8"/><circle cx="2608.4" cy="761.8" r="6.2" fill="#941fb7"/><circle cx="2590.5" cy="761.8" r="6.2" fill="#7247d1"/><circle cx="2590.6" cy="746.2" r="6.2" fill="#0288f9"/><circle cx="2593.4" cy="726.0" r="6.2" fill="#0484f8"/><circle cx="2597.7" cy="738.4" r="6.2" fill="#0483f8"/><circle cx="2602.2" cy="754.0" r="6.2" fill="#7346d0"/><circle cx="2614.5" cy="759.2" r="6.2" fill="#7741cd"/><circle cx="2586.7" cy="733.2" r="6.2" fill="#1172f1"/><circle cx="2585.5" cy="769.6" r="6.2" fill="#0189fa"/><circle cx="2599.5" cy="733.2" r="6.2" fill="#0f74f2"/><circle cx="2689.5" cy="756.6" r="6.2" fill="#b5009e"/><circle cx="2592.0" cy="772.2" r="6.2" fill="#0188fa"/><circle cx="2580.1" cy="743.6" r="6.2" fill="#0c79f4"/><circle cx="2576.2" cy="748.8" r="6.2" fill="#087ef6"/><circle cx="2754.8" cy="754.0" r="6.2" fill="#ff0052"/><circle cx="2697.8" cy="754.0" r="6.2" fill="#ea006e"/><circle cx="2666.5" cy="754.0" r="6.2" fill="#d0008a"/><circle cx="2661.4" cy="754.0" r="6.2" fill="#e1007b"/><circle cx="2602.6" cy="759.2" r="6.2" fill="#0c78f3"/><circle cx="2522.2" cy="754.0" r="6.2" fill="#008bfb"/><circle cx="2674.5" cy="754.0" r="6.2" fill="#fd0053"/><circle cx="2621.7" cy="759.2" r="6.2" fill="#b9009b"/><circle cx="2534.4" cy="754.0" r="6.2" fill="#008bfb"/><circle cx="2607.1" cy="756.6" r="6.2" fill="#008afa"/><circle cx="2572.6" cy="754.0" r="6.2" fill="#0188fa"/><circle cx="2614.6" cy="764.4" r="6.2" fill="#c20095"/><circle cx="2576.1" cy="759.2" r="6.2" fill="#077ff6"/><circle cx="2597.9" cy="774.8" r="6.2" fill="#b003a2"/><circle cx="2596.9" cy="769.6" r="6.2" fill="#704ad2"/><circle cx="2583.1" cy="759.2" r="6.2" fill="#0e76f3"/><circle cx="2602.6" cy="844.2" r="6.2" fill="#0582f7"/><circle cx="2605.1" cy="818.2" r="6.2" fill="#2f67e9"/><circle cx="2614.0" cy="852.0" r="6.2" fill="#097df6"/><circle cx="2638.2" cy="833.8" r="6.2" fill="#0286f9"/><circle cx="2624.6" cy="836.4" r="6.2" fill="#0188f9"/><circle cx="2648.9" cy="839.0" r="6.2" fill="#0b7af4"/><circle cx="2620.3" cy="828.6" r="6.2" fill="#156def"/><circle cx="2598.3" cy="833.8" r="6.2" fill="#9023ba"/><circle cx="2570.6" cy="839.0" r="6.2" fill="#ff0052"/><circle cx="2626.5" cy="852.0" r="6.2" fill="#4661e3"/><circle cx="2613.7" cy="828.6" r="6.2" fill="#3d63e5"/><circle cx="2606.9" cy="813.0" r="6.2" fill="#4162e4"/><circle cx="2606.8" cy="841.6" r="6.2" fill="#1171f1"/><circle cx="2606.1" cy="854.6" r="6.2" fill="#3c63e5"/><circle cx="2619.1" cy="839.0" r="6.2" fill="#008afa"/><circle cx="2608.0" cy="836.4" r="6.2" fill="#eb006c"/><circle cx="2602.0" cy="839.0" r="6.2" fill="#1171f1"/><circle cx="2596.0" cy="839.0" r="6.2" fill="#8233c4"/><circle cx="2642.6" cy="839.0" r="6.2" fill="#0385f8"/><circle cx="2614.4" cy="857.2" r="6.2" fill="#2469eb"/><circle cx="2625.9" cy="831.2" r="6.2" fill="#0681f7"/><circle cx="2600.2" cy="828.6" r="6.2" fill="#a70ca9"/><circle cx="2624.7" cy="846.8" r="6.2" fill="#2469eb"/><circle cx="2646.3" cy="844.2" r="6.2" fill="#087ef6"/><circle cx="2603.9" cy="849.4" r="6.2" fill="#3d63e5"/><circle cx="2630.6" cy="839.0" r="6.2" fill="#0b7af4"/><circle cx="2614.1" cy="823.4" r="6.2" fill="#0484f8"/><circle cx="2597.0" cy="844.2" r="6.2" fill="#b9009b"/><circle cx="2607.0" cy="867.0" r="6.2" fill="#3665e7"/><circle cx="2616.1" cy="844.2" r="6.2" fill="#236aec"/><circle cx="2604.2" cy="859.8" r="6.2" fill="#0780f7"/><circle cx="2620.8" cy="854.6" r="6.2" fill="#0e75f2"/><circle cx="2612.6" cy="839.0" r="6.2" fill="#2d67e9"/><circle cx="2633.7" cy="844.2" r="6.2" fill="#0c78f4"/><circle cx="2539.3" cy="839.0" r="6.2" fill="#ff0052"/><circle cx="2624.0" cy="841.6" r="6.2" fill="#077ff6"/><circle cx="2060.2" cy="839.0" r="6.2" fill="#ff0052"/><circle cx="2652.1" cy="844.2" r="6.2" fill="#0484f8"/><circle cx="2619.7" cy="833.8" r="6.2" fill="#0484f8"/><circle cx="2025.1" cy="839.0" r="6.2" fill="#ff0052"/><circle cx="2614.5" cy="862.4" r="6.2" fill="#0582f7"/><circle cx="2598.6" cy="849.4" r="6.2" fill="#e20079"/><circle cx="2636.2" cy="839.0" r="6.2" fill="#0c78f4"/><circle cx="2613.1" cy="833.8" r="6.2" fill="#0089fa"/><circle cx="2602.9" cy="823.4" r="6.2" fill="#1f6bed"/><circle cx="2614.4" cy="818.2" r="6.2" fill="#1270f0"/><circle cx="2616.2" cy="811.0" r="6.2" fill="#0a7bf5"/><circle cx="2605.9" cy="828.6" r="6.2" fill="#4362e4"/><circle cx="2614.8" cy="813.0" r="6.2" fill="#0c78f4"/><circle cx="2614.9" cy="867.0" r="6.2" fill="#176def"/><circle cx="2600.6" cy="854.6" r="6.2" fill="#2e67e9"/><circle cx="2606.1" cy="865.0" r="6.2" fill="#c50093"/><circle cx="2603.5" cy="833.8" r="6.2" fill="#0681f7"/><circle cx="2619.9" cy="849.4" r="6.2" fill="#0484f8"/><circle cx="2610.8" cy="846.8" r="6.2" fill="#0e75f2"/><circle cx="2598.0" cy="927.6" r="6.2" fill="#0b7bf4"/><circle cx="2575.3" cy="917.2" r="6.2" fill="#097df5"/><circle cx="2532.7" cy="925.0" r="6.2" fill="#008bfb"/><circle cx="2669.0" cy="927.6" r="6.2" fill="#c00096"/><circle cx="2585.5" cy="925.0" r="6.2" fill="#0b7af4"/><circle cx="2655.9" cy="925.0" r="6.2" fill="#bb009a"/><circle cx="2575.5" cy="912.0" r="6.2" fill="#0b7af4"/><circle cx="2589.3" cy="948.4" r="6.2" fill="#0188fa"/><circle cx="2624.2" cy="930.2" r="6.2" fill="#ec006a"/><circle cx="2570.5" cy="919.8" r="6.2" fill="#0287f9"/><circle cx="2599.7" cy="932.8" r="6.2" fill="#c50093"/><circle cx="2581.3" cy="912.0" r="6.2" fill="#097df6"/><circle cx="2645.4" cy="930.2" r="6.2" fill="#b201a0"/><circle cx="2629.8" cy="925.0" r="6.2" fill="#a40fab"/><circle cx="2589.1" cy="904.2" r="6.2" fill="#097df5"/><circle cx="2650.5" cy="925.0" r="6.2" fill="#c20095"/><circle cx="2664.2" cy="925.0" r="6.2" fill="#f90059"/><circle cx="2527.7" cy="930.2" r="6.2" fill="#008bfb"/><circle cx="2581.6" cy="940.6" r="6.2" fill="#0484f8"/><circle cx="2590.1" cy="922.4" r="6.2" fill="#087df6"/><circle cx="2636.3" cy="925.0" r="6.2" fill="#f40060"/><circle cx="2574.9" cy="930.2" r="6.2" fill="#077ff6"/><circle cx="2593.0" cy="932.8" r="6.2" fill="#0582f7"/><circle cx="2586.8" cy="938.0" r="6.2" fill="#0b79f4"/><circle cx="2587.9" cy="943.2" r="6.2" fill="#0385f8"/><circle cx="2621.6" cy="925.0" r="6.2" fill="#dc0081"/><circle cx="2641.4" cy="925.0" r="6.2" fill="#f90059"/><circle cx="2684.2" cy="925.0" r="6.2" fill="#b102a1"/><circle cx="2583.2" cy="932.8" r="6.2" fill="#0189fa"/><circle cx="2579.1" cy="922.4" r="6.2" fill="#0287f9"/><circle cx="2596.3" cy="922.4" r="6.2" fill="#0484f8"/><circle cx="2574.1" cy="925.0" r="6.2" fill="#0a7bf5"/><circle cx="2612.5" cy="925.0" r="6.2" fill="#0a7bf5"/><circle cx="2590.6" cy="953.0" r="6.2" fill="#0484f8"/><circle cx="2592.8" cy="927.6" r="6.2" fill="#0582f7"/><circle cx="2587.3" cy="909.4" r="6.2" fill="#087ff6"/><circle cx="2568.1" cy="930.2" r="6.2" fill="#0780f7"/><circle cx="2594.0" cy="917.2" r="6.2" fill="#0287f9"/><circle cx="2577.8" cy="935.4" r="6.2" fill="#087ef6"/><circle cx="2596.4" cy="938.0" r="6.2" fill="#0188f9"/><circle cx="2587.8" cy="930.2" r="6.2" fill="#077ff6"/><circle cx="2579.7" cy="927.6" r="6.2" fill="#0188fa"/><circle cx="2679.8" cy="927.6" r="6.2" fill="#b102a1"/><circle cx="2675.2" cy="925.0" r="6.2" fill="#c40093"/><circle cx="2615.0" cy="930.2" r="6.2" fill="#c50093"/><circle cx="2581.7" cy="906.8" r="6.2" fill="#087ef6"/><circle cx="2581.2" cy="917.2" r="6.2" fill="#0286f9"/><circle cx="2567.5" cy="925.0" r="6.2" fill="#0b7af4"/><circle cx="2605.8" cy="925.0" r="6.2" fill="#9e15af"/><circle cx="2609.6" cy="930.2" r="6.2" fill="#c80090"/><circle cx="2586.7" cy="914.6" r="6.2" fill="#077ff6"/><circle cx="2524.8" cy="925.0" r="6.2" fill="#008bfb"/><circle cx="2572.0" cy="935.4" r="6.2" fill="#0287f9"/><circle cx="2590.1" cy="899.0" r="6.2" fill="#0c78f4"/><circle cx="2583.5" cy="945.8" r="6.2" fill="#0a7cf5"/><circle cx="2585.7" cy="919.8" r="6.2" fill="#087ff6"/><circle cx="2659.1" cy="930.2" r="6.2" fill="#e80070"/><circle cx="2625.9" cy="1026.6" r="6.2" fill="#2569eb"/><circle cx="2596.8" cy="1000.6" r="6.2" fill="#ed006a"/><circle cx="2584.2" cy="1000.6" r="6.2" fill="#f5005f"/><circle cx="2586.4" cy="1011.0" r="6.2" fill="#d30088"/><circle cx="2607.4" cy="995.4" r="6.2" fill="#146def"/><circle cx="2509.8" cy="1011.0" r="6.2" fill="#ff0052"/><circle cx="2595.4" cy="1021.4" r="6.2" fill="#8135c6"/><circle cx="2610.4" cy="1000.6" r="6.2" fill="#0485f8"/><circle cx="2491.9" cy="1011.0" r="6.2" fill="#ff0052"/><circle cx="2581.7" cy="1013.6" r="6.2" fill="#f8005a"/><circle cx="2617.6" cy="1005.8" r="6.2" fill="#146def"/><circle cx="2624.9" cy="1013.6" r="6.2" fill="#0385f9"/><circle cx="2592.5" cy="1011.0" r="6.2" fill="#bd0098"/><circle cx="2604.3" cy="1000.6" r="6.2" fill="#de007d"/><circle cx="2599.7" cy="995.4" r="6.2" fill="#c70091"/><circle cx="2575.5" cy="1013.6" r="6.2" fill="#e20078"/><circle cx="2585.6" cy="1024.0" r="6.2" fill="#f10064"/><circle cx="2601.3" cy="1005.8" r="6.2" fill="#6f4cd3"/><circle cx="2574.2" cy="1018.8" r="6.2" fill="#da0083"/><circle cx="2601.6" cy="1021.4" r="6.2" fill="#8c27bd"/><circle cx="2583.4" cy="1005.8" r="6.2" fill="#c80090"/><circle cx="2594.9" cy="1005.8" r="6.2" fill="#a70ca9"/><circle cx="2562.6" cy="1011.0" r="6.2" fill="#cd008c"/><circle cx="2614.2" cy="1011.0" r="6.2" fill="#2968ea"/><circle cx="2576.3" cy="1003.2" r="6.2" fill="#d30088"/><circle cx="2625.6" cy="1000.6" r="6.2" fill="#0089fa"/><circle cx="2590.7" cy="1000.6" r="6.2" fill="#7346d0"/><circle cx="2631.3" cy="1011.0" r="6.2" fill="#0b79f4"/><circle cx="2572.2" cy="1008.4" r="6.2" fill="#b6009e"/><circle cx="2606.9" cy="1005.8" r="6.2" fill="#6e4cd3"/><circle cx="2597.6" cy="1011.0" r="6.2" fill="#136ef0"/><circle cx="2589.1" cy="1016.2" r="6.2" fill="#9b18b2"/><circle cx="2620.8" cy="1018.8" r="6.2" fill="#2c67e9"/><circle cx="2610.0" cy="1018.8" r="6.2" fill="#1c6bed"/><circle cx="2625.0" cy="1021.4" r="6.2" fill="#0d77f3"/><circle cx="2616.5" cy="1016.2" r="6.2" fill="#0189fa"/><circle cx="2582.4" cy="1018.8" r="6.2" fill="#e50075"/><circle cx="2609.0" cy="1011.0" r="6.2" fill="#0d77f3"/><circle cx="2563.6" cy="1016.2" r="6.2" fill="#d40087"/><circle cx="2463.9" cy="1011.0" r="6.2" fill="#ff0052"/><circle cx="2589.6" cy="1005.8" r="6.2" fill="#971cb5"/><circle cx="2623.7" cy="1005.8" r="6.2" fill="#0c78f3"/><circle cx="2599.8" cy="1031.8" r="6.2" fill="#ed0069"/><circle cx="2611.2" cy="1024.0" r="6.2" fill="#1270f0"/><circle cx="2605.1" cy="1016.2" r="6.2" fill="#ea006e"/><circle cx="2627.2" cy="995.4" r="6.2" fill="#0b79f4"/><circle cx="2620.5" cy="1011.0" r="6.2" fill="#1d6bed"/><circle cx="2602.8" cy="1011.0" r="6.2" fill="#9a19b3"/><circle cx="2566.9" cy="1008.4" r="6.2" fill="#ca008e"/><circle cx="2590.2" cy="1021.4" r="6.2" fill="#a50eab"/><circle cx="2599.4" cy="1016.2" r="6.2" fill="#1b6cee"/><circle cx="2570.2" cy="1013.6" r="6.2" fill="#f00065"/><circle cx="2605.9" cy="1024.0" r="6.2" fill="#793ecb"/><circle cx="2594.3" cy="1016.2" r="6.2" fill="#c9008f"/><circle cx="2609.1" cy="1029.2" r="6.2" fill="#1072f1"/><circle cx="2597.1" cy="1026.6" r="6.2" fill="#8a29bf"/><circle cx="2578.4" cy="1008.4" r="6.2" fill="#cd008d"/><circle cx="2594.5" cy="1090.8" r="6.2" fill="#cd008c"/><circle cx="2606.0" cy="1106.4" r="6.2" fill="#0484f8"/><circle cx="2636.8" cy="1098.6" r="6.2" fill="#0681f7"/><circle cx="2612.8" cy="1098.6" r="6.2" fill="#555ddf"/><circle cx="2546.2" cy="1101.2" r="6.2" fill="#e60073"/><circle cx="2629.1" cy="1101.2" r="6.2" fill="#3864e6"/><circle cx="2520.8" cy="1096.0" r="6.2" fill="#ee0068"/><circle cx="2604.2" cy="1080.4" r="6.2" fill="#0e76f3"/><circle cx="2591.2" cy="1096.0" r="6.2" fill="#d0008a"/><circle cx="2562.9" cy="1096.0" r="6.2" fill="#f40061"/><circle cx="2525.2" cy="1098.6" r="6.2" fill="#e80070"/><circle cx="2603.1" cy="1111.6" r="6.2" fill="#0f74f2"/><circle cx="2583.8" cy="1096.0" r="6.2" fill="#b5009f"/><circle cx="2645.7" cy="1098.6" r="6.2" fill="#0287f9"/><circle cx="2600.2" cy="1106.4" r="6.2" fill="#9d16b1"/><circle cx="2613.3" cy="1093.4" r="6.2" fill="#0089fa"/><circle cx="2535.1" cy="1101.2" r="6.2" fill="#f00065"/><circle cx="2567.9" cy="1096.0" r="6.2" fill="#f30062"/><circle cx="2595.7" cy="1085.6" r="6.2" fill="#d60086"/><circle cx="2597.5" cy="1080.4" r="6.2" fill="#d0008a"/><circle cx="2633.0" cy="1093.4" r="6.2" fill="#0681f7"/><circle cx="2595.2" cy="1106.4" r="6.2" fill="#b201a1"/><circle cx="2613.5" cy="1103.8" r="6.2" fill="#226aec"/><circle cx="2597.3" cy="1111.6" r="6.2" fill="#991ab3"/><circle cx="2551.4" cy="1096.0" r="6.2" fill="#ec006b"/><circle cx="2617.1" cy="1109.0" r="6.2" fill="#1a6cee"/><circle cx="2641.3" cy="1096.0" r="6.2" fill="#0582f7"/><circle cx="2576.6" cy="1096.0" r="6.2" fill="#bd0098"/><circle cx="2602.9" cy="1096.0" r="6.2" fill="#2968ea"/><circle cx="2604.9" cy="1090.8" r="6.2" fill="#575ddf"/><circle cx="2601.9" cy="1085.6" r="6.2" fill="#a112ae"/><circle cx="2478.3" cy="1096.0" r="6.2" fill="#ff0052"/><circle cx="2588.3" cy="1106.4" r="6.2" fill="#b6009d"/><circle cx="2613.9" cy="1088.2" r="6.2" fill="#0681f7"/><circle cx="2593.3" cy="1101.2" r="6.2" fill="#d0008a"/><circle cx="2608.1" cy="1096.0" r="6.2" fill="#575ddf"/><circle cx="2605.0" cy="1116.8" r="6.2" fill="#4461e3"/><circle cx="2598.3" cy="1101.2" r="6.2" fill="#186cee"/><circle cx="2556.4" cy="1096.0" r="6.2" fill="#fa0057"/><circle cx="2585.4" cy="1101.2" r="6.2" fill="#a112ad"/><circle cx="2531.1" cy="1096.0" r="6.2" fill="#e9006f"/><circle cx="2599.8" cy="1090.8" r="6.2" fill="#1171f1"/><circle cx="2586.6" cy="1090.8" r="6.2" fill="#bd0099"/><circle cx="2603.6" cy="1101.2" r="6.2" fill="#126ff0"/><circle cx="2542.6" cy="1096.0" r="6.2" fill="#fa0058"/><circle cx="2607.0" cy="1085.6" r="6.2" fill="#136ff0"/><circle cx="2628.3" cy="1096.0" r="6.2" fill="#0287f9"/><circle cx="2597.1" cy="1096.0" r="6.2" fill="#156def"/><circle cx="2597.1" cy="1193.4" r="6.2" fill="#f5005e"/><circle cx="2585.3" cy="1211.0" r="6.2" fill="#f7005c"/><circle cx="2589.5" cy="1203.8" r="6.2" fill="#ec006a"/><circle cx="2621.3" cy="1183.0" r="6.2" fill="#1171f1"/><circle cx="2582.3" cy="1183.0" r="6.2" fill="#e70072"/><circle cx="2586.3" cy="1172.6" r="6.2" fill="#ef0067"/><circle cx="2616.6" cy="1177.8" r="6.2" fill="#087ef6"/><circle cx="2629.4" cy="1183.0" r="6.2" fill="#186cee"/><circle cx="2585.2" cy="1162.2" r="6.2" fill="#e50075"/><circle cx="2591.8" cy="1193.4" r="6.2" fill="#e9006f"/><circle cx="2585.2" cy="1157.0" r="6.2" fill="#f7005c"/><circle cx="2609.3" cy="1193.4" r="6.2" fill="#6d4dd4"/><circle cx="2608.2" cy="1188.2" r="6.2" fill="#8e25bb"/><circle cx="2600.7" cy="1180.4" r="6.2" fill="#6557da"/><circle cx="2589.0" cy="1198.6" r="6.2" fill="#f20063"/><circle cx="2583.7" cy="1203.8" r="6.2" fill="#f7005b"/><circle cx="2576.9" cy="1183.0" r="6.2" fill="#e70072"/><circle cx="2581.1" cy="1193.4" r="6.2" fill="#f30061"/><circle cx="2581.2" cy="1172.6" r="6.2" fill="#ea006d"/><circle cx="2588.2" cy="1188.2" r="6.2" fill="#eb006c"/><circle cx="2584.9" cy="1177.8" r="6.2" fill="#f00065"/><circle cx="2598.7" cy="1164.8" r="6.2" fill="#b7009d"/><circle cx="2594.4" cy="1167.4" r="6.2" fill="#ee0068"/><circle cx="2592.3" cy="1172.6" r="6.2" fill="#f10065"/><circle cx="2578.9" cy="1177.8" r="6.2" fill="#f40060"/><circle cx="2624.4" cy="1188.2" r="6.2" fill="#0a7cf5"/><circle cx="2593.2" cy="1162.2" r="6.2" fill="#f30061"/><circle cx="2597.9" cy="1185.6" r="6.2" fill="#b9009b"/><circle cx="2587.5" cy="1183.0" r="6.2" fill="#f90059"/><circle cx="2596.0" cy="1177.8" r="6.2" fill="#e80070"/><circle cx="2668.6" cy="1183.0" r="6.2" fill="#008bfb"/><circle cx="2614.2" cy="1183.0" r="6.2" fill="#9122b9"/><circle cx="2593.2" cy="1188.2" r="6.2" fill="#fa0058"/><circle cx="2582.9" cy="1167.4" r="6.2" fill="#ed0069"/><circle cx="2593.8" cy="1209.0" r="6.2" fill="#e80070"/><circle cx="2586.5" cy="1155.0" r="6.2" fill="#fe0052"/><circle cx="2590.8" cy="1177.8" r="6.2" fill="#fd0053"/><circle cx="2641.8" cy="1183.0" r="6.2" fill="#0e75f2"/><circle cx="2603.8" cy="1185.6" r="6.2" fill="#7149d2"/><circle cx="2589.3" cy="1167.4" r="6.2" fill="#ec006b"/><circle cx="2592.9" cy="1183.0" r="6.2" fill="#ee0069"/><circle cx="2634.0" cy="1185.6" r="6.2" fill="#1073f2"/><circle cx="2594.0" cy="1198.6" r="6.2" fill="#f7005c"/><circle cx="2586.1" cy="1193.4" r="6.2" fill="#ef0067"/><circle cx="2583.2" cy="1188.2" r="6.2" fill="#e60073"/><circle cx="2581.8" cy="1198.6" r="6.2" fill="#f90059"/><circle cx="2635.9" cy="1180.4" r="6.2" fill="#156def"/><circle cx="2608.7" cy="1175.2" r="6.2" fill="#9a19b3"/><circle cx="2606.5" cy="1180.4" r="6.2" fill="#8f24bb"/><circle cx="2578.2" cy="1188.2" r="6.2" fill="#ec006b"/><circle cx="2598.6" cy="1172.6" r="6.2" fill="#f7005b"/><circle cx="2585.2" cy="1209.0" r="6.2" fill="#e9006e"/><circle cx="2644.0" cy="1188.2" r="6.2" fill="#0d77f3"/><circle cx="2614.7" cy="1188.2" r="6.2" fill="#1073f2"/><circle cx="2596.1" cy="1203.8" r="6.2" fill="#8d26bd"/><circle cx="2584.9" cy="1273.2" r="6.2" fill="#6459db"/><circle cx="2547.1" cy="1268.0" r="6.2" fill="#008bfb"/><circle cx="2603.6" cy="1247.2" r="6.2" fill="#d90084"/><circle cx="2612.1" cy="1273.2" r="6.2" fill="#ec006b"/><circle cx="2615.6" cy="1268.0" r="6.2" fill="#d60085"/><circle cx="2642.4" cy="1268.0" r="6.2" fill="#e0007b"/><circle cx="2600.5" cy="1283.6" r="6.2" fill="#d40087"/><circle cx="2596.8" cy="1262.8" r="6.2" fill="#7445cf"/><circle cx="2595.1" cy="1252.4" r="6.2" fill="#ac07a5"/><circle cx="2603.2" cy="1288.8" r="6.2" fill="#d40087"/><circle cx="2625.8" cy="1268.0" r="6.2" fill="#e1007a"/><circle cx="2601.5" cy="1265.4" r="6.2" fill="#c30094"/><circle cx="2600.8" cy="1294.0" r="6.2" fill="#c60092"/><circle cx="2596.1" cy="1268.0" r="6.2" fill="#ab08a6"/><circle cx="2600.8" cy="1252.4" r="6.2" fill="#c80090"/><circle cx="2573.3" cy="1268.0" r="6.2" fill="#2769eb"/><circle cx="2561.3" cy="1268.0" r="6.2" fill="#008bfb"/><circle cx="2597.7" cy="1288.8" r="6.2" fill="#9f14af"/><circle cx="2594.4" cy="1278.4" r="6.2" fill="#9f14af"/><circle cx="2600.4" cy="1270.6" r="6.2" fill="#ae05a4"/><circle cx="2569.6" cy="1273.2" r="6.2" fill="#6d4ed4"/><circle cx="2633.2" cy="1268.0" r="6.2" fill="#e40076"/><circle cx="2586.2" cy="1262.8" r="6.2" fill="#3c63e5"/><circle cx="2590.2" cy="1268.0" r="6.2" fill="#1b6cee"/><circle cx="2599.9" cy="1278.4" r="6.2" fill="#8b28be"/><circle cx="2637.0" cy="1262.8" r="6.2" fill="#d30088"/><circle cx="2621.9" cy="1260.2" r="6.2" fill="#dd007f"/><circle cx="2618.2" cy="1273.2" r="6.2" fill="#d80084"/><circle cx="2609.3" cy="1268.0" r="6.2" fill="#dc0080"/><circle cx="2600.9" cy="1242.0" r="6.2" fill="#a80ba8"/><circle cx="2584.8" cy="1268.0" r="6.2" fill="#6458db"/><circle cx="2594.7" cy="1283.6" r="6.2" fill="#6f4bd3"/><circle cx="2620.5" cy="1265.4" r="6.2" fill="#fc0054"/><circle cx="2591.1" cy="1273.2" r="6.2" fill="#077ff6"/><circle cx="2555.0" cy="1268.0" r="6.2" fill="#008bfb"/><circle cx="2634.9" cy="1273.2" r="6.2" fill="#ec006a"/><circle cx="2598.2" cy="1247.2" r="6.2" fill="#097df5"/><circle cx="2597.0" cy="1257.6" r="6.2" fill="#3d63e5"/><circle cx="2628.1" cy="1273.2" r="6.2" fill="#fa0058"/><circle cx="2566.4" cy="1268.0" r="6.2" fill="#008bfb"/><circle cx="2596.2" cy="1273.2" r="6.2" fill="#8431c3"/><circle cx="2591.4" cy="1262.8" r="6.2" fill="#535ee0"/><circle cx="2591.9" cy="1257.6" r="6.2" fill="#1171f1"/><circle cx="2601.8" cy="1260.2" r="6.2" fill="#d40087"/><circle cx="2587.1" cy="1278.4" r="6.2" fill="#3d63e5"/><circle cx="2602.0" cy="1296.0" r="6.2" fill="#2868ea"/><circle cx="2598.4" cy="1341.0" r="6.2" fill="#a40fab"/><circle cx="2618.6" cy="1359.2" r="6.2" fill="#ef0066"/><circle cx="2593.2" cy="1343.6" r="6.2" fill="#8a2abf"/><circle cx="2600.3" cy="1372.2" r="6.2" fill="#b7009d"/><circle cx="2558.1" cy="1359.2" r="6.2" fill="#0189fa"/><circle cx="2592.3" cy="1364.4" r="6.2" fill="#b6009d"/><circle cx="2598.4" cy="1367.0" r="6.2" fill="#7b3cca"/><circle cx="2549.5" cy="1354.0" r="6.2" fill="#0386f9"/><circle cx="2572.7" cy="1356.6" r="6.2" fill="#0189fa"/><circle cx="2602.1" cy="1354.0" r="6.2" fill="#a112ad"/><circle cx="2598.0" cy="1346.2" r="6.2" fill="#b003a2"/><circle cx="2555.4" cy="1354.0" r="6.2" fill="#0385f8"/><circle cx="2574.0" cy="1351.4" r="6.2" fill="#0a7cf5"/><circle cx="2626.3" cy="1354.0" r="6.2" fill="#dd007f"/><circle cx="2584.2" cy="1359.2" r="6.2" fill="#0d77f3"/><circle cx="2598.9" cy="1335.8" r="6.2" fill="#991ab3"/><circle cx="2561.9" cy="1354.0" r="6.2" fill="#0582f7"/><circle cx="2596.3" cy="1351.4" r="6.2" fill="#c40093"/><circle cx="2564.9" cy="1348.8" r="6.2" fill="#077ff6"/><circle cx="2580.4" cy="1354.0" r="6.2" fill="#0287f9"/><circle cx="2611.0" cy="1359.2" r="6.2" fill="#e50075"/><circle cx="2584.5" cy="1348.8" r="6.2" fill="#0682f7"/><circle cx="2623.0" cy="1348.8" r="6.2" fill="#e1007a"/><circle cx="2551.5" cy="1359.2" r="6.2" fill="#0c79f4"/><circle cx="2591.5" cy="1354.0" r="6.2" fill="#7741cd"/><circle cx="2593.8" cy="1369.6" r="6.2" fill="#bb009a"/><circle cx="2595.9" cy="1374.8" r="6.2" fill="#7d3ac9"/><circle cx="2596.2" cy="1356.6" r="6.2" fill="#aa09a7"/><circle cx="2591.8" cy="1359.2" r="6.2" fill="#b4009f"/><circle cx="2615.2" cy="1354.0" r="6.2" fill="#de007e"/><circle cx="2568.4" cy="1354.0" r="6.2" fill="#0386f9"/><circle cx="2620.7" cy="1354.0" r="6.2" fill="#f7005c"/><circle cx="2597.0" cy="1361.8" r="6.2" fill="#a310ac"/><circle cx="2576.7" cy="1361.8" r="6.2" fill="#0385f8"/><circle cx="2603.9" cy="1348.8" r="6.2" fill="#dc0081"/><circle cx="2563.4" cy="1359.2" r="6.2" fill="#0780f7"/><circle cx="2603.5" cy="1359.2" r="6.2" fill="#7742cd"/><circle cx="2591.8" cy="1348.8" r="6.2" fill="#991ab4"/><circle cx="2608.1" cy="1354.0" r="6.2" fill="#eb006d"/><circle cx="2594.0" cy="1338.4" r="6.2" fill="#7642ce"/><circle cx="2596.5" cy="1413.0" r="6.2" fill="#fe0052"/><circle cx="2598.4" cy="1467.0" r="6.2" fill="#6755d9"/><circle cx="2595.9" cy="1423.4" r="6.2" fill="#e80070"/><circle cx="2598.4" cy="1467.0" r="6.2" fill="#2968ea"/><circle cx="2594.1" cy="1433.8" r="6.2" fill="#f8005a"/><circle cx="2586.2" cy="1444.2" r="6.2" fill="#fd0054"/><circle cx="2606.6" cy="1431.2" r="6.2" fill="#0287f9"/><circle cx="2601.5" cy="1428.6" r="6.2" fill="#0d76f3"/><circle cx="2603.9" cy="1444.2" r="6.2" fill="#0d77f3"/><circle cx="2594.8" cy="1428.6" r="6.2" fill="#e10079"/><circle cx="2605.5" cy="1436.4" r="6.2" fill="#1171f1"/><circle cx="2599.6" cy="1467.0" r="6.2" fill="#d50086"/><circle cx="2598.1" cy="1411.0" r="6.2" fill="#a40fab"/><circle cx="2597.5" cy="1467.0" r="6.2" fill="#ae05a3"/><circle cx="2598.2" cy="1467.0" r="6.2" fill="#8a29be"/><circle cx="2595.5" cy="1439.0" r="6.2" fill="#7247d1"/><circle cx="2599.4" cy="1449.4" r="6.2" fill="#892abf"/><circle cx="2599.2" cy="1433.8" r="6.2" fill="#ba009a"/><circle cx="2589.8" cy="1436.4" r="6.2" fill="#f6005d"/><circle cx="2597.5" cy="1444.2" r="6.2" fill="#f90059"/><circle cx="2596.4" cy="1462.4" r="6.2" fill="#f5005f"/><circle cx="2596.1" cy="1457.2" r="6.2" fill="#a013ae"/><circle cx="2584.8" cy="1439.0" r="6.2" fill="#cb008e"/><circle cx="2591.2" cy="1441.6" r="6.2" fill="#df007c"/><circle cx="2599.7" cy="1467.0" r="6.2" fill="#8530c2"/><circle cx="2594.9" cy="1452.0" r="6.2" fill="#fb0057"/><circle cx="2608.2" cy="1441.6" r="6.2" fill="#136ef0"/><circle cx="2592.4" cy="1446.8" r="6.2" fill="#e30077"/><circle cx="2596.2" cy="1418.2" r="6.2" fill="#6755d9"/><circle cx="2601.2" cy="1439.0" r="6.2" fill="#8a29bf"/><circle cx="2605.3" cy="1524.0" r="6.2" fill="#e1007a"/><circle cx="2617.1" cy="1524.0" r="6.2" fill="#ea006d"/><circle cx="2596.3" cy="1539.6" r="6.2" fill="#971cb5"/><circle cx="2624.0" cy="1524.0" r="6.2" fill="#ef0067"/><circle cx="2598.2" cy="1518.8" r="6.2" fill="#3d63e5"/><circle cx="2600.5" cy="1513.6" r="6.2" fill="#515ee0"/><circle cx="2595.5" cy="1529.2" r="6.2" fill="#8e25bb"/><circle cx="2600.2" cy="1496.0" r="6.2" fill="#0385f8"/><circle cx="2594.0" cy="1524.0" r="6.2" fill="#1171f1"/><circle cx="2599.1" cy="1534.4" r="6.2" fill="#077ff6"/><circle cx="2619.5" cy="1529.2" r="6.2" fill="#f00066"/><circle cx="2595.2" cy="1513.6" r="6.2" fill="#136ff0"/><circle cx="2597.5" cy="1552.0" r="6.2" fill="#6854d8"/><circle cx="2589.0" cy="1524.0" r="6.2" fill="#0682f7"/><circle cx="2608.6" cy="1529.2" r="6.2" fill="#ec006b"/><circle cx="2610.8" cy="1524.0" r="6.2" fill="#f30062"/><circle cx="2597.0" cy="1503.2" r="6.2" fill="#951eb6"/><circle cx="2602.5" cy="1539.6" r="6.2" fill="#ed006a"/><circle cx="2596.5" cy="1544.8" r="6.2" fill="#126ff0"/><circle cx="2600.5" cy="1529.2" r="6.2" fill="#6b50d6"/><circle cx="2599.0" cy="1524.0" r="6.2" fill="#3266e8"/><circle cx="2613.9" cy="1529.2" r="6.2" fill="#df007d"/><circle cx="2590.4" cy="1529.2" r="6.2" fill="#0385f9"/><circle cx="2596.4" cy="1508.4" r="6.2" fill="#8a2abf"/><circle cx="2638.0" cy="1524.0" r="6.2" fill="#ff0052"/><circle cx="2593.0" cy="1518.8" r="6.2" fill="#0189fa"/><circle cx="2597.2" cy="1550.0" r="6.2" fill="#9221b8"/><circle cx="2593.5" cy="1534.4" r="6.2" fill="#087ef6"/><circle cx="2597.2" cy="1498.0" r="6.2" fill="#0a7bf5"/><line x1="1991" y1="1612" x2="2810" y2="1612" stroke="#222" stroke-width="2.4"/><line x1="2061.0" y1="1612" x2="2061.0" y2="1620" stroke="#222" stroke-width="2.2"/><line x1="2240.0" y1="1612" x2="2240.0" y2="1620" stroke="#222" stroke-width="2.2"/><line x1="2419.0" y1="1612" x2="2419.0" y2="1620" stroke="#222" stroke-width="2.2"/><line x1="2598.0" y1="1612" x2="2598.0" y2="1620" stroke="#222" stroke-width="2.2"/><line x1="2777.0" y1="1612" x2="2777.0" y2="1620" stroke="#222" stroke-width="2.2"/><defs><linearGradient id="cb" x1="0" y1="1" x2="0" y2="0"><stop offset="0.0" stop-color="#008bfb"/><stop offset="0.1" stop-color="#0d77f3"/><stop offset="0.2" stop-color="#2e67e9"/><stop offset="0.3" stop-color="#645adc"/><stop offset="0.4" stop-color="#7e38c8"/><stop offset="0.5" stop-color="#991ab4"/><stop offset="0.6" stop-color="#b400a0"/><stop offset="0.7" stop-color="#c80091"/><stop offset="0.8" stop-color="#dc0082"/><stop offset="0.9" stop-color="#ed006a"/><stop offset="1.0" stop-color="#ff0052"/></linearGradient></defs><rect x="2860" y="667" width="11" height="944" fill="url(#cb)"/></svg>
<div class="t" style="left:1674.0px;top:737.9px;font-size:31.98px;color:#333;transform:scaleX(0.9805);">% Hispanic/Latino</div>
<div class="t" style="left:1662.0px;top:822.9px;font-size:31.98px;color:#333;transform:scaleX(0.9850);">Population Density</div>
<div class="t" style="left:1764.0px;top:908.9px;font-size:31.98px;color:#333;transform:scaleX(0.9641);">Shape Area</div>
<div class="t" style="left:1597.0px;top:994.9px;font-size:31.98px;color:#333;transform:scaleX(0.9762);">Estimate Mean Travel...</div>
<div class="t" style="left:1599.0px;top:1079.9px;font-size:31.98px;color:#333;transform:scaleX(0.9645);">% Natural Resources,...</div>
<div class="t" style="left:1809.0px;top:1166.9px;font-size:31.98px;color:#333;transform:scaleX(0.9748);">% White</div>
<div class="t" style="left:1725.0px;top:1251.9px;font-size:31.98px;color:#333;transform:scaleX(0.9615);">% 20-64 Years</div>
<div class="t" style="left:1608.0px;top:1337.9px;font-size:31.98px;color:#333;transform:scaleX(0.9548);">% Sales and Office O...</div>
<div class="t" style="left:1793.0px;top:1422.9px;font-size:31.98px;color:#333;transform:scaleX(0.9635);">Day (cos)</div>
<div class="t" style="left:1568.0px;top:1507.9px;font-size:31.98px;color:#333;transform:scaleX(0.9754);">% Management, Busine...</div>
<div class="t" style="left:2043.0px;top:1625.9px;font-size:31.98px;color:#333;">−3</div>
<div class="t" style="left:2222.0px;top:1625.9px;font-size:31.98px;color:#333;">−2</div>
<div class="t" style="left:2401.0px;top:1625.9px;font-size:31.98px;color:#333;">−1</div>
<div class="t" style="left:2589.0px;top:1625.9px;font-size:31.98px;color:#333;">0</div>
<div class="t" style="left:2768.0px;top:1625.9px;font-size:31.98px;color:#333;">1</div>
<div class="t" style="left:2056.0px;top:1670.1px;font-size:34.16px;color:#111;transform:scaleX(1.1979);">SHAP value (impact on model output)</div>
<div class="t" style="left:2884.0px;top:651.7px;font-size:33.43px;color:#222;">High</div>
<div class="t" style="left:2884.0px;top:1595.7px;font-size:33.43px;color:#222;">Low</div>
<div class="t" style="left:2858.6px;top:1124.9px;font-size:34.16px;line-height:34.16px;color:#222;transform-origin:50% 50%;transform:rotate(-90deg) scaleX(1.082)">Feature value</div>
<div class="t" style="left:1737.0px;top:1886.5px;font-size:31.25px;font-weight:bold;">% Hispanic/</div>
<div class="t" style="left:1819.0px;top:1924.5px;font-size:31.25px;font-weight:bold;">Latino</div>
<div class="t" style="left:2012.0px;top:1886.5px;font-size:31.25px;font-weight:bold;">Population</div>
<div class="t" style="left:2059.0px;top:1924.5px;font-size:31.25px;font-weight:bold;">Density</div>
<div class="t" style="left:2240.0px;top:1886.5px;font-size:31.25px;font-weight:bold;">Shape</div>
<div class="t" style="left:2264.0px;top:1924.5px;font-size:31.25px;font-weight:bold;">Area</div>
<div class="t" style="left:2424.0px;top:1886.5px;font-size:31.25px;font-weight:bold;">Estimate Mean Travel</div>
<div class="t" style="left:2396.0px;top:1924.5px;font-size:31.25px;font-weight:bold;">Time to Work (minutes)</div>
<div class="t" style="left:2789.0px;top:1886.5px;font-size:31.25px;font-weight:bold;">% Infection</div>
<div class="t" style="left:2888.0px;top:1924.5px;font-size:31.25px;font-weight:bold;">Rate</div>
<div class="t" style="left:1565.0px;top:1995.5px;font-size:31.25px;font-weight:bold;transform:scaleX(1.0085);">Hotspot</div>
<div style="position:absolute;left:1547px;top:2045px;width:1424px;height:3px;background:#000"></div>
<div style="position:absolute;left:1547px;top:2049px;width:1424px;height:70px;background:#f5f5f5"></div>
<div class="t" style="left:1666.0px;top:2068.5px;font-size:31.25px;font-weight:bold;">1</div>
<div class="t" style="left:1835.0px;top:2068.5px;font-size:31.25px;color:#111;">46.86</div>
<div class="t" style="left:1991.0px;top:2068.5px;font-size:31.25px;color:#111;">27282245.26</div>
<div class="t" style="left:2273.0px;top:2068.5px;font-size:31.25px;color:#111;">0.00</div>
<div class="t" style="left:2664.0px;top:2068.5px;font-size:31.25px;color:#111;">29.38</div>
<div class="t" style="left:2895.0px;top:2068.5px;font-size:31.25px;color:#111;">9.33</div>
<div class="t" style="left:1666.0px;top:2138.5px;font-size:31.25px;font-weight:bold;">3</div>
<div class="t" style="left:1835.0px;top:2138.5px;font-size:31.25px;color:#111;">10.83</div>
<div class="t" style="left:2008.0px;top:2138.5px;font-size:31.25px;color:#111;">8210353.49</div>
<div class="t" style="left:2273.0px;top:2138.5px;font-size:31.25px;color:#111;">0.01</div>
<div class="t" style="left:2664.0px;top:2138.5px;font-size:31.25px;color:#111;">25.75</div>
<div class="t" style="left:2895.0px;top:2138.5px;font-size:31.25px;color:#111;">6.48</div>
<div style="position:absolute;left:1547px;top:2189px;width:1424px;height:70px;background:#f5f5f5"></div>
<div class="t" style="left:1666.0px;top:2208.5px;font-size:31.25px;font-weight:bold;">0</div>
<div class="t" style="left:1835.0px;top:2208.5px;font-size:31.25px;color:#111;">27.13</div>
<div class="t" style="left:1995.0px;top:2208.5px;font-size:31.25px;color:#111;">10748111.63</div>
<div class="t" style="left:2273.0px;top:2208.5px;font-size:31.25px;color:#111;">0.00</div>
<div class="t" style="left:2664.0px;top:2208.5px;font-size:31.25px;color:#111;">28.05</div>
<div class="t" style="left:2895.0px;top:2208.5px;font-size:31.25px;color:#111;">5.40</div>
<div class="t" style="left:1665.0px;top:2278.5px;font-size:31.25px;font-weight:bold;">4</div>
<div class="t" style="left:1835.0px;top:2278.5px;font-size:31.25px;color:#111;">15.23</div>
<div class="t" style="left:1991.0px;top:2278.5px;font-size:31.25px;color:#111;">13288273.58</div>
<div class="t" style="left:2273.0px;top:2278.5px;font-size:31.25px;color:#111;">0.00</div>
<div class="t" style="left:2664.0px;top:2278.5px;font-size:31.25px;color:#111;">25.82</div>
<div class="t" style="left:2895.0px;top:2278.5px;font-size:31.25px;color:#111;">5.34</div>
<div style="position:absolute;left:1547px;top:2329px;width:1424px;height:70px;background:#f5f5f5"></div>
<div class="t" style="left:1666.0px;top:2348.5px;font-size:31.25px;font-weight:bold;">2</div>
<div class="t" style="left:1835.0px;top:2348.5px;font-size:31.25px;color:#111;">16.26</div>
<div class="t" style="left:1991.0px;top:2348.5px;font-size:31.25px;color:#111;">12858082.24</div>
<div class="t" style="left:2273.0px;top:2348.5px;font-size:31.25px;color:#111;">0.00</div>
<div class="t" style="left:2664.0px;top:2348.5px;font-size:31.25px;color:#111;">26.90</div>
<div class="t" style="left:2895.0px;top:2348.5px;font-size:31.25px;color:#111;">4.96</div>
<div class="t" style="left:1666.0px;top:2418.5px;font-size:31.25px;font-weight:bold;">5</div>
<div class="t" style="left:1854.0px;top:2418.5px;font-size:31.25px;color:#111;">7.11</div>
<div class="t" style="left:2008.0px;top:2418.5px;font-size:31.25px;color:#111;">3623489.20</div>
<div class="t" style="left:2273.0px;top:2418.5px;font-size:31.25px;color:#111;">0.01</div>
<div class="t" style="left:2664.0px;top:2418.5px;font-size:31.25px;color:#111;">26.67</div>
<div class="t" style="left:2895.0px;top:2418.5px;font-size:31.25px;color:#111;">4.05</div>
<div class="t" style="left:1772.0px;top:2575.5px;font-size:31.25px;font-weight:bold;">% Hispanic/</div>
<div class="t" style="left:1854.0px;top:2614.5px;font-size:31.25px;font-weight:bold;">Latino</div>
<div class="t" style="left:2057.0px;top:2575.5px;font-size:31.25px;font-weight:bold;">Population</div>
<div class="t" style="left:2104.0px;top:2614.5px;font-size:31.25px;font-weight:bold;">Density</div>
<div class="t" style="left:2309.0px;top:2575.5px;font-size:31.25px;font-weight:bold;">Shape</div>
<div class="t" style="left:2333.0px;top:2614.5px;font-size:31.25px;font-weight:bold;">Area</div>
<div class="t" style="left:2462.0px;top:2558.5px;font-size:31.25px;font-weight:bold;">Estimate Mean Travel</div>
<div class="t" style="left:2583.0px;top:2597.5px;font-size:31.25px;font-weight:bold;">Time to Work</div>
<div class="t" style="left:2639.0px;top:2636.5px;font-size:31.25px;font-weight:bold;">(minutes)</div>
<div class="t" style="left:2834.0px;top:2575.5px;font-size:31.25px;font-weight:bold;">% Infection</div>
<div class="t" style="left:2933.0px;top:2614.5px;font-size:31.25px;font-weight:bold;">Rate</div>
<div style="position:absolute;left:1562px;top:2685px;width:1446px;height:3px;background:#000"></div>
<div style="position:absolute;left:1562px;top:2689px;width:1446px;height:109px;background:#f5f5f5"></div>
<div class="t" style="left:1609.0px;top:2711.5px;font-size:31.25px;font-weight:bold;">Bottom</div>
<div class="t" style="left:1655.0px;top:2751.5px;font-size:31.25px;font-weight:bold;">10%</div>
<div class="t" style="left:1592.0px;top:2819.5px;font-size:31.25px;font-weight:bold;">Top 10%</div>
<div class="t" style="left:1800.0px;top:2729.5px;font-size:31.25px;color:#111;">12.786439</div>
<div class="t" style="left:2017.0px;top:2729.5px;font-size:31.25px;color:#111;">1.609291e+07</div>
<div class="t" style="left:2273.0px;top:2729.5px;font-size:31.25px;color:#111;">0.005599</div>
<div class="t" style="left:2632.0px;top:2729.5px;font-size:31.25px;color:#111;">31.047709</div>
<div class="t" style="left:2871.0px;top:2729.5px;font-size:31.25px;color:#111;">0.007221</div>
<div class="t" style="left:1800.0px;top:2819.5px;font-size:31.25px;color:#111;">46.469523</div>
<div class="t" style="left:2017.0px;top:2819.5px;font-size:31.25px;color:#111;">1.824413e+07</div>
<div class="t" style="left:2273.0px;top:2819.5px;font-size:31.25px;color:#111;">0.012965</div>
<div class="t" style="left:2632.0px;top:2819.5px;font-size:31.25px;color:#111;">28.636965</div>
<div class="t" style="left:2853.0px;top:2819.5px;font-size:31.25px;color:#111;">13.468557</div>
<div class="t" style="left:3151.0px;top:637.9px;font-size:69.77px;font-weight:bold;transform:scaleX(0.9167);">Problem Statement</div>
<div class="t" style="left:3151.0px;top:756.6px;font-size:55.96px;transform:scaleX(0.9440);">The effects of the COVID-19 pandemic can still be felt in</div>
<div class="t" style="left:3151.0px;top:832.4px;font-size:55.96px;transform:scaleX(0.9397);">the country five years later—both its impact on the</div>
<div class="t" style="left:3151.0px;top:908.2px;font-size:55.96px;transform:scaleX(0.9245);">economy and the significant human loss. Understanding</div>
<div class="t" style="left:3151.9px;top:984.0px;font-size:55.96px;transform:scaleX(0.9307);">which areas are at the highest risk of infection is crucial</div>
<div class="t" style="left:3151.0px;top:1059.8px;font-size:55.96px;transform:scaleX(0.9382);">to outbreak response; however, many factors interplay</div>
<div class="t" style="left:3152.0px;top:1135.6px;font-size:55.96px;transform:scaleX(0.9523);">with each other in complex ways that make it difficult to</div>
<div class="t" style="left:3151.0px;top:1211.4px;font-size:55.96px;transform:scaleX(0.9271);">predict to guide resource allocation. Leveraging deep</div>
<div class="t" style="left:3151.0px;top:1287.2px;font-size:55.96px;transform:scaleX(0.9356);">learning can be the key to uncovering key insights within</div>
<div class="t" style="left:3151.0px;top:1363.0px;font-size:55.96px;transform:scaleX(0.9433);">the Florida COVID-19 and better understanding the</div>
<div class="t" style="left:3151.0px;top:1438.8px;font-size:55.96px;transform:scaleX(0.9222);">critical factors behind disease transmission.</div>
<div class="t" style="left:3158.0px;top:1525.9px;font-size:69.77px;font-weight:bold;transform:scaleX(0.8611);">Results</div>
<div class="t" style="left:3158.0px;top:1646.6px;font-size:55.96px;">The</div><div class="t" style="left:3293.1px;top:1646.6px;font-size:55.96px;">team</div><div class="t" style="left:3456.3px;top:1646.6px;font-size:55.96px;">has</div><div class="t" style="left:3585.2px;top:1646.6px;font-size:55.96px;">produced</div><div class="t" style="left:3857.3px;top:1646.6px;font-size:55.96px;">three</div><div class="t" style="left:4023.6px;top:1646.6px;font-size:55.96px;">types</div><div class="t" style="left:4196.1px;top:1646.6px;font-size:55.96px;">of</div><div class="t" style="left:4281.5px;top:1646.6px;font-size:55.96px;">clustering</div>
<div class="t" style="left:3158.0px;top:1722.3px;font-size:55.96px;">algorithms</div><div class="t" style="left:3430.1px;top:1722.3px;font-size:55.96px;">and</div><div class="t" style="left:3537.5px;top:1722.3px;font-size:55.96px;">two</div><div class="t" style="left:3638.6px;top:1722.3px;font-size:55.96px;">different</div><div class="t" style="left:3853.8px;top:1722.3px;font-size:55.96px;">neural</div><div class="t" style="left:4023.3px;top:1722.3px;font-size:55.96px;">network</div><div class="t" style="left:4233.3px;top:1722.3px;font-size:55.96px;">models</div><div class="t" style="left:4427.7px;top:1722.3px;font-size:55.96px;">that</div>
<div class="t" style="left:3158.0px;top:1798.0px;font-size:55.96px;transform:scaleX(0.9489);">accurately</div><div class="t" style="left:3412.5px;top:1798.0px;font-size:55.96px;transform:scaleX(0.9489);">analyze</div><div class="t" style="left:3607.9px;top:1798.0px;font-size:55.96px;transform:scaleX(0.9489);">and</div><div class="t" style="left:3709.0px;top:1798.0px;font-size:55.96px;transform:scaleX(0.9489);">visualize</div><div class="t" style="left:3925.1px;top:1798.0px;font-size:55.96px;transform:scaleX(0.9489);">the</div><div class="t" style="left:4011.3px;top:1798.0px;font-size:55.96px;transform:scaleX(0.9489);">patterns</div><div class="t" style="left:4215.7px;top:1798.0px;font-size:55.96px;transform:scaleX(0.9489);">and</div><div class="t" style="left:4316.7px;top:1798.0px;font-size:55.96px;transform:scaleX(0.9489);">trends</div><div class="t" style="left:4476.7px;top:1798.0px;font-size:55.96px;transform:scaleX(0.9489);">of</div>
<div class="t" style="left:3158.0px;top:1873.7px;font-size:55.96px;transform:scaleX(0.9486);">COVID-19,</div><div class="t" style="left:3431.0px;top:1873.7px;font-size:55.96px;transform:scaleX(0.9486);">with</div><div class="t" style="left:3536.9px;top:1873.7px;font-size:55.96px;transform:scaleX(0.9486);">error</div><div class="t" style="left:3661.4px;top:1873.7px;font-size:55.96px;transform:scaleX(0.9486);">as</div><div class="t" style="left:3729.9px;top:1873.7px;font-size:55.96px;transform:scaleX(0.9486);">low</div><div class="t" style="left:3822.0px;top:1873.7px;font-size:55.96px;transform:scaleX(0.9486);">as</div><div class="t" style="left:3890.5px;top:1873.7px;font-size:55.96px;transform:scaleX(0.9486);">0.3%.</div><div class="t" style="left:4038.7px;top:1873.7px;font-size:55.96px;transform:scaleX(0.9486);">These</div><div class="t" style="left:4198.7px;top:1873.7px;font-size:55.96px;transform:scaleX(0.9486);">are</div><div class="t" style="left:4287.8px;top:1873.7px;font-size:55.96px;transform:scaleX(0.9486);">interfaced</div>
<div class="t" style="left:3158.0px;top:1949.4px;font-size:55.96px;">through</div><div class="t" style="left:3365.2px;top:1949.4px;font-size:55.96px;">a</div><div class="t" style="left:3413.6px;top:1949.4px;font-size:55.96px;">user-friendly,</div><div class="t" style="left:3750.3px;top:1949.4px;font-size:55.96px;">interactive</div><div class="t" style="left:4023.7px;top:1949.4px;font-size:55.96px;">web</div><div class="t" style="left:4142.7px;top:1949.4px;font-size:55.96px;">application</div><div class="t" style="left:4427.7px;top:1949.4px;font-size:55.96px;">that</div>
<div class="t" style="left:3158.0px;top:2025.1px;font-size:55.96px;">provides</div><div class="t" style="left:3384.3px;top:2025.1px;font-size:55.96px;">information</div><div class="t" style="left:3675.8px;top:2025.1px;font-size:55.96px;">about</div><div class="t" style="left:3830.6px;top:2025.1px;font-size:55.96px;">the</div><div class="t" style="left:3923.1px;top:2025.1px;font-size:55.96px;">project</div><div class="t" style="left:4105.8px;top:2025.1px;font-size:55.96px;">and</div><div class="t" style="left:4213.9px;top:2025.1px;font-size:55.96px;">gives</div><div class="t" style="left:4359.2px;top:2025.1px;font-size:55.96px;">further</div>
<div class="t" style="left:3158.0px;top:2100.8px;font-size:55.96px;transform:scaleX(0.9490);">instructions on how to use it.</div>
<div class="t" style="left:3151.0px;top:2175.9px;font-size:69.77px;font-weight:bold;transform:scaleX(0.8881);">Conclusions &amp; Impact</div>
<div class="t" style="left:3158.0px;top:2300.6px;font-size:55.96px;transform:scaleX(0.9374);">There is much to learn and extrapolate from the results of</div>
<div class="t" style="left:3158.0px;top:2376.4px;font-size:55.96px;transform:scaleX(0.9605);">our project, particularly to the benefit of not only public</div>
<div class="t" style="left:3158.0px;top:2452.2px;font-size:55.96px;transform:scaleX(0.9244);">health officials, but also for educational uses in classrooms</div>
<div class="t" style="left:3158.0px;top:2528.0px;font-size:55.96px;transform:scaleX(0.9299);">and those curious on understanding the socioeconomic</div>
<div class="t" style="left:3158.0px;top:2603.8px;font-size:55.96px;transform:scaleX(0.9150);">implications of disease spread.</div>
<div class="t" style="left:3158.0px;top:2782.6px;font-size:55.96px;transform:scaleX(0.9436);">The understanding obtained through the project is not</div>
<div class="t" style="left:3158.0px;top:2858.3px;font-size:55.96px;transform:scaleX(0.9325);">only useful in understanding COVID-19, but disease</div>
<div class="t" style="left:3158.0px;top:2934.0px;font-size:55.96px;transform:scaleX(0.9286);">transmission in general and its inclination towards dense</div>
<div class="t" style="left:3158.0px;top:3009.7px;font-size:55.96px;transform:scaleX(0.8885);">urban areas.</div>
<div class="t" style="left:3438.0px;top:3330.5px;font-size:53.78px;color:#a6a6a6;transform:scaleX(0.8912);">SENIOR DESIGN SHOWCASE | SPRING 2025</div>
<svg style="position:absolute;left:132.0px;top:3094.8px" width="442.4" height="259.8" viewBox="0 0 2212 1299">
<path fill="#c4c7cc" d="M360 62 C400 120 470 175 590 215 C800 165 950 150 1105 150 C1260 150 1420 165 1630 215
 C1750 175 1820 120 1862 62 C1895 110 1905 170 1890 235 C1915 215 1935 200 1945 195 C1965 240 1965 290 1950 330
 C1985 340 1990 350 1985 365 C2110 450 2165 540 2165 640 C2165 860 1800 1040 1230 1150
 L1110 1262 L990 1150 C420 1040 45 860 45 640 C45 530 120 430 250 355 C245 300 250 240 275 200
 C300 215 315 225 325 232 C315 170 330 110 360 62 Z"/>
<path fill="#0a3a6e" d="M360 135 C410 190 480 235 590 262 C800 210 950 198 1105 198 C1260 198 1420 210 1630 262
 C1740 235 1810 190 1862 135 C1880 190 1870 250 1830 305 C1870 290 1900 275 1915 270 C1920 300 1910 330 1890 355
 C2040 430 2115 530 2115 640 C2115 830 1780 1000 1200 1105 L1110 1195 L1020 1105 C430 1000 95 830 95 640
 C95 530 170 430 320 355 C300 340 290 300 300 270 C320 285 350 300 390 305 C360 250 350 190 360 135 Z"/>
<path fill="#bf1e3a" d="M400 215 C560 300 780 360 930 460 C1030 530 1075 610 1085 690 C1040 610 960 560 860 520
 C700 450 480 380 425 295 C412 270 404 245 400 215 Z"/>
<path fill="#bf1e3a" d="M1820 215 C1660 300 1440 360 1290 460 C1190 530 1145 610 1135 690 C1180 610 1260 560 1360 520
 C1520 450 1740 380 1795 295 C1808 270 1816 245 1820 215 Z"/>
<circle cx="1950" cy="368" r="13" fill="none" stroke="#c4c7cc" stroke-width="4"/>
<path fill="#fff" d="M425 440 C330 520 280 600 285 690 C300 860 560 990 970 1055 L930 990 L860 975 L870 915
 C600 880 420 800 370 690 C360 670 360 660 375 655 L390 668 L380 600 C385 540 400 490 425 440 Z"/>
<path fill="#fff" d="M1795 440 C1890 520 1940 600 1935 690 C1920 860 1660 990 1250 1055 L1290 990 L1360 975 L1350 915
 C1620 880 1800 800 1850 690 C1860 670 1860 660 1845 655 L1830 668 L1840 600 C1835 540 1820 490 1795 440 Z"/>
<path fill="none" stroke="#c4c7cc" stroke-width="70" d="M565 545 C520 620 540 720 640 770 C740 815 880 800 960 735"/>
<path fill="none" stroke="#c4c7cc" stroke-width="70" d="M1655 545 C1700 620 1680 720 1580 770 C1480 815 1340 800 1260 735"/>
<path fill="#fff" d="M730 632 C790 640 830 660 850 688 C820 715 760 715 735 690 C720 672 720 650 730 632 Z"/>
<path fill="#fff" d="M1490 632 C1430 640 1390 660 1370 688 C1400 715 1460 715 1485 690 C1500 672 1500 650 1490 632 Z"/>
<path fill="#c4c7cc" d="M1120 730 C1180 790 1225 870 1222 960 C1218 1040 1170 1095 1115 1130 C1040 1060 1005 980 1010 900
 C1015 840 1040 800 1070 775 C1060 840 1070 930 1110 1010 C1115 920 1112 820 1120 730 Z"/>
</svg>
<div class="t" style="left:616.0px;top:3099.6px;font-size:45.82px;font-family:'Liberation Serif', serif;color:#0d2a5c;transform:scaleX(1.1874);">FLORIDA ATLANTIC UNIVERSITY</div>
<div style="position:absolute;left:616px;top:3166px;width:849px;height:5px;background:#c8102e"></div>
<div class="t" style="left:616.0px;top:3192.4px;font-size:66.86px;color:#0d2a5c;transform:scaleX(1.1049);">College of Engineering</div>
<div class="t" style="left:616.0px;top:3270.4px;font-size:66.86px;color:#0d2a5c;transform:scaleX(1.1000);">and Computer Science</div>
</body></html>
